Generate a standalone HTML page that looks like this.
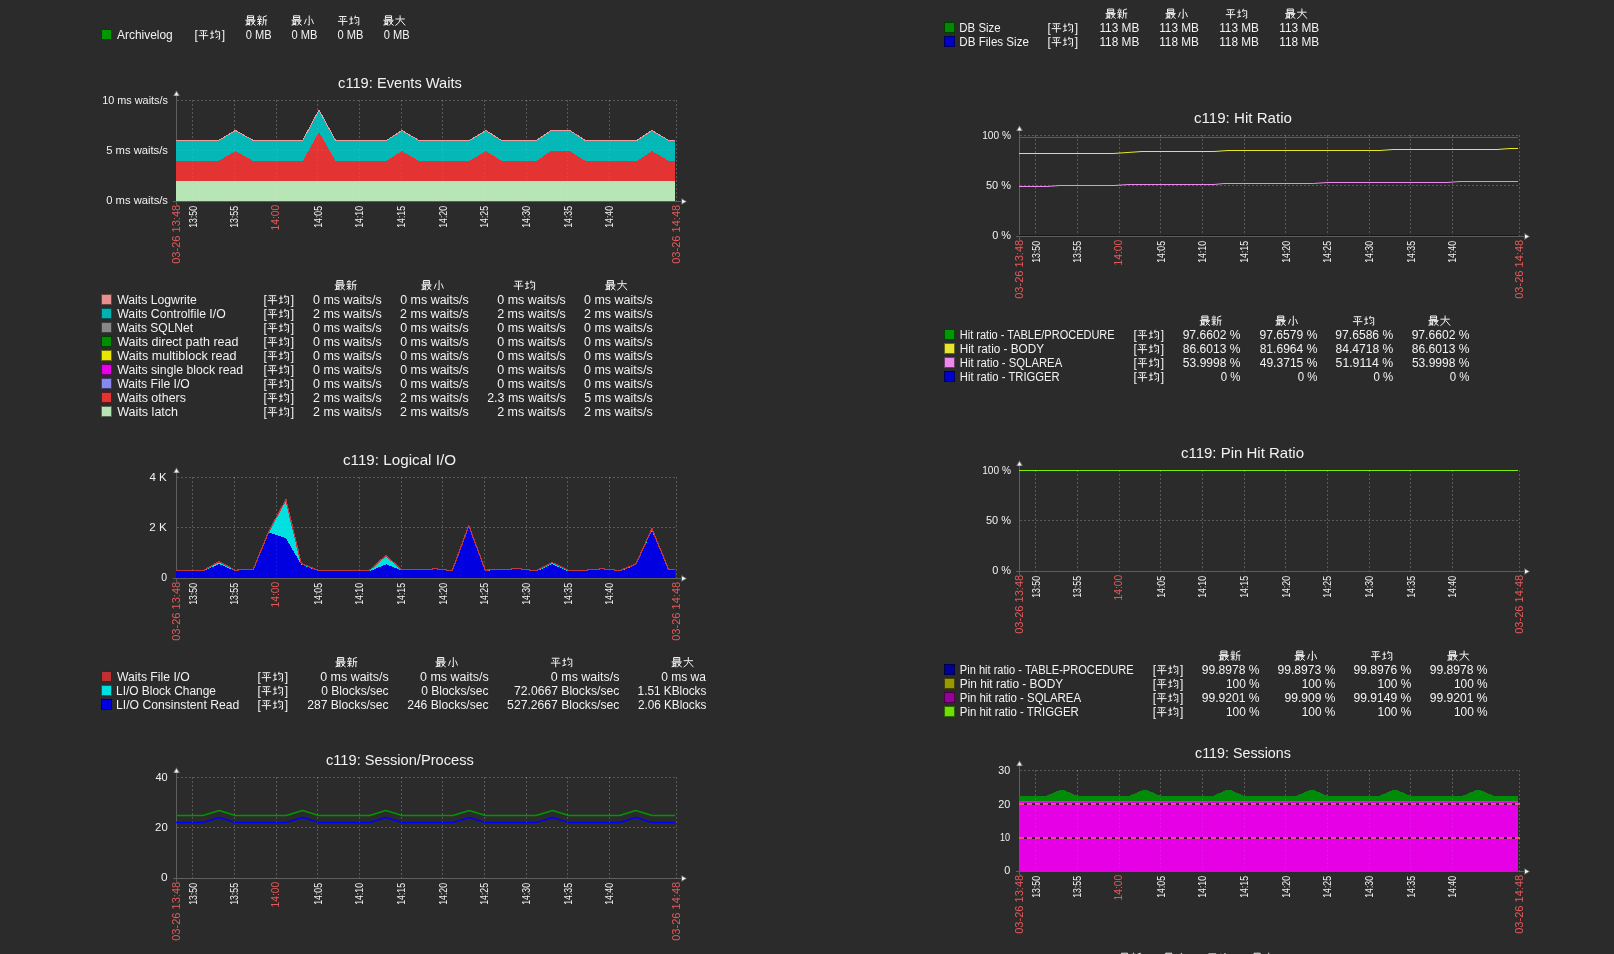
<!DOCTYPE html><html><head><meta charset="utf-8"><title>Zabbix graphs</title><style>html,body{margin:0;padding:0;background:#2b2b2b;width:1614px;height:954px;overflow:hidden}#wrap{position:absolute;left:0;top:0;width:1614px;height:954px;will-change:transform}svg text{font-family:"Liberation Sans",sans-serif}</style></head><body><div id="wrap"><svg width="1614" height="954" viewBox="0 0 1614 954" style="position:absolute;left:0;top:0;font-family:'Liberation Sans',sans-serif">
<rect width="1614" height="954" fill="#2b2b2b"/>
<defs><clipPath id="clipL2"><rect x="600" y="660" width="106.3" height="60"/></clipPath></defs>
<path transform="translate(245.40,15.3) scale(1.020)" d="M2 0.5H8V4H2Z M2 2.2H8 M0 4.8H10 M1.6 4.8V9.4 M4.2 4.8V10 M1.6 6.4H4.2 M1.6 8H4.2 M0 9.6L4.2 8.8 M5.4 5.8H9L5.6 10 M6.2 6.8L10 10" fill="none" stroke="#f2f2f2" stroke-width="0.980"/>
<path transform="translate(257.00,15.3) scale(1.020)" d="M2.5 0V1 M0.5 1.6H4.5 M1.3 2.3L1.8 3.6 M3.7 2.3L3.2 3.6 M0 4.2H5 M0.4 6.2H4.6 M2.5 4.2V10 M2.5 7L0.3 9.4 M2.5 7.2L4.5 8.8 M9.6 0.4L6.2 1.6V7.6L5.2 10 M6.2 4.6H10 M8.6 4.6V10" fill="none" stroke="#f2f2f2" stroke-width="0.980"/>
<path transform="translate(291.50,15.3) scale(1.020)" d="M2 0.5H8V4H2Z M2 2.2H8 M0 4.8H10 M1.6 4.8V9.4 M4.2 4.8V10 M1.6 6.4H4.2 M1.6 8H4.2 M0 9.6L4.2 8.8 M5.4 5.8H9L5.6 10 M6.2 6.8L10 10" fill="none" stroke="#f2f2f2" stroke-width="0.980"/>
<path transform="translate(303.10,15.3) scale(1.020)" d="M6 0.2V9.6L4.6 9.1 M3.2 3.4L1.3 8.6 M8.2 3.4L10.2 8.4" fill="none" stroke="#f2f2f2" stroke-width="0.980"/>
<path transform="translate(337.60,15.3) scale(1.020)" d="M1.2 1.2H8.8 M2.6 2.8L3.4 4.6 M7.4 2.8L6.6 4.6 M0.3 6H9.7 M5 1.2V10" fill="none" stroke="#f2f2f2" stroke-width="0.980"/>
<path transform="translate(349.20,15.3) scale(1.020)" d="M0.2 3.6H3.8 M2 1V8 M0 8.8L4 7.4 M6.2 0.3L5.2 3.2 M5.6 2.2H9.4V9.4L8.2 9.6 M6.4 4.2L7.6 5.2 M5.6 8.2L8.4 6.6" fill="none" stroke="#f2f2f2" stroke-width="0.980"/>
<path transform="translate(383.40,15.3) scale(1.020)" d="M2 0.5H8V4H2Z M2 2.2H8 M0 4.8H10 M1.6 4.8V9.4 M4.2 4.8V10 M1.6 6.4H4.2 M1.6 8H4.2 M0 9.6L4.2 8.8 M5.4 5.8H9L5.6 10 M6.2 6.8L10 10" fill="none" stroke="#f2f2f2" stroke-width="0.980"/>
<path transform="translate(395.00,15.3) scale(1.020)" d="M0.4 3.6H9.6 M5 0V4.2Q4.6 7.6 0.4 10 M5.4 4.6L10 10" fill="none" stroke="#f2f2f2" stroke-width="0.980"/>
<rect x="101" y="29" width="11" height="11" fill="#009900"/>
<rect x="101.5" y="29.5" width="10" height="10" fill="none" stroke="#000" stroke-opacity="0.55"/>
<text x="116.98" y="38.5" font-size="12" fill="#f2f2f2" textLength="55.79" lengthAdjust="spacingAndGlyphs">Archivelog</text>
<text x="194.6" y="38.5" font-size="12" fill="#f2f2f2">[</text>
<path transform="translate(198.40,29.5) scale(1.020)" d="M1.2 1.2H8.8 M2.6 2.8L3.4 4.6 M7.4 2.8L6.6 4.6 M0.3 6H9.7 M5 1.2V10" fill="none" stroke="#f2f2f2" stroke-width="0.980"/>
<path transform="translate(210.00,29.5) scale(1.020)" d="M0.2 3.6H3.8 M2 1V8 M0 8.8L4 7.4 M6.2 0.3L5.2 3.2 M5.6 2.2H9.4V9.4L8.2 9.6 M6.4 4.2L7.6 5.2 M5.6 8.2L8.4 6.6" fill="none" stroke="#f2f2f2" stroke-width="0.980"/>
<text x="221.79999999999998" y="38.5" font-size="12" fill="#f2f2f2">]</text>
<text x="245.71" y="38.5" font-size="12" fill="#f2f2f2" textLength="25.88" lengthAdjust="spacingAndGlyphs">0 MB</text>
<text x="291.51" y="38.5" font-size="12" fill="#f2f2f2" textLength="25.88" lengthAdjust="spacingAndGlyphs">0 MB</text>
<text x="337.41" y="38.5" font-size="12" fill="#f2f2f2" textLength="25.88" lengthAdjust="spacingAndGlyphs">0 MB</text>
<text x="383.71" y="38.5" font-size="12" fill="#f2f2f2" textLength="25.88" lengthAdjust="spacingAndGlyphs">0 MB</text>
<text x="338.09" y="88.3" font-size="14.5" fill="#f2f2f2" textLength="123.84" lengthAdjust="spacingAndGlyphs">c119: Events Waits</text>
<line x1="176.5" y1="95" x2="176.5" y2="205" stroke="#5e5e5e" shape-rendering="crispEdges"/>
<polygon points="176.5,90.2 173,96 180,96" fill="#707070"/>
<polygon points="176.5,91.8 174.4,95.4 178.6,95.4" fill="#f4f4f4"/>
<line x1="173" y1="201.5" x2="681" y2="201.5" stroke="#5e5e5e" shape-rendering="crispEdges"/>
<polygon points="687,201.5 681.3,198 681.3,205" fill="#707070"/>
<polygon points="685.8,201.5 682,199.4 682,203.6" fill="#f4f4f4"/>
<line x1="177" y1="100.5" x2="677" y2="100.5" stroke="#ffffff" stroke-opacity="0.16" stroke-dasharray="2 2" shape-rendering="crispEdges"/>
<line x1="177" y1="150.5" x2="677" y2="150.5" stroke="#ffffff" stroke-opacity="0.16" stroke-dasharray="2 2" shape-rendering="crispEdges"/>
<line x1="192.5" y1="100" x2="192.5" y2="201" stroke="#ffffff" stroke-opacity="0.16" stroke-dasharray="2 2" shape-rendering="crispEdges"/>
<line x1="234.5" y1="100" x2="234.5" y2="201" stroke="#ffffff" stroke-opacity="0.16" stroke-dasharray="2 2" shape-rendering="crispEdges"/>
<line x1="276.5" y1="100" x2="276.5" y2="201" stroke="#ffffff" stroke-opacity="0.16" stroke-dasharray="2 2" shape-rendering="crispEdges"/>
<line x1="317.5" y1="100" x2="317.5" y2="201" stroke="#ffffff" stroke-opacity="0.16" stroke-dasharray="2 2" shape-rendering="crispEdges"/>
<line x1="359.5" y1="100" x2="359.5" y2="201" stroke="#ffffff" stroke-opacity="0.16" stroke-dasharray="2 2" shape-rendering="crispEdges"/>
<line x1="401.5" y1="100" x2="401.5" y2="201" stroke="#ffffff" stroke-opacity="0.16" stroke-dasharray="2 2" shape-rendering="crispEdges"/>
<line x1="442.5" y1="100" x2="442.5" y2="201" stroke="#ffffff" stroke-opacity="0.16" stroke-dasharray="2 2" shape-rendering="crispEdges"/>
<line x1="484.5" y1="100" x2="484.5" y2="201" stroke="#ffffff" stroke-opacity="0.16" stroke-dasharray="2 2" shape-rendering="crispEdges"/>
<line x1="526.5" y1="100" x2="526.5" y2="201" stroke="#ffffff" stroke-opacity="0.16" stroke-dasharray="2 2" shape-rendering="crispEdges"/>
<line x1="567.5" y1="100" x2="567.5" y2="201" stroke="#ffffff" stroke-opacity="0.16" stroke-dasharray="2 2" shape-rendering="crispEdges"/>
<line x1="609.5" y1="100" x2="609.5" y2="201" stroke="#ffffff" stroke-opacity="0.16" stroke-dasharray="2 2" shape-rendering="crispEdges"/>
<line x1="676.5" y1="100" x2="676.5" y2="201" stroke="#ffffff" stroke-opacity="0.16" stroke-dasharray="2 2" shape-rendering="crispEdges"/>
<polygon points="176.0,181.0 675.0,181.0 675.0,201.0 176.0,201.0" fill="#b8e5b5" shape-rendering="crispEdges"/>
<polygon points="176.0,161.0 218.5,161.0 235.5,151.0 235.5,151.0 253.3,161.0 302.7,161.0 319.0,132.0 319.0,132.0 335.5,161.0 386.5,161.0 401.8,151.0 401.8,151.0 419.0,161.0 469.3,161.0 486.0,151.0 486.0,151.0 501.7,161.0 536.5,161.0 551.0,151.0 570.0,151.0 585.3,161.0 636.9,161.0 651.9,151.0 651.9,151.0 668.9,161.0 675.0,161.0 675.0,181.0 176.0,181.0" fill="#e33333" shape-rendering="crispEdges"/>
<polygon points="176.0,141.0 218.5,141.0 235.5,131.0 235.5,131.0 253.3,141.0 302.7,141.0 319.0,110.5 319.0,110.5 335.5,141.0 386.5,141.0 401.8,131.0 401.8,131.0 419.0,141.0 469.3,141.0 486.0,131.0 486.0,131.0 501.7,141.0 536.5,141.0 551.0,131.0 570.0,131.0 585.3,141.0 636.9,141.0 651.9,131.0 651.9,131.0 668.9,141.0 675.0,141.0 675.0,161.0 675.0,161.0 668.9,161.0 651.9,151.0 651.9,151.0 636.9,161.0 585.3,161.0 570.0,151.0 551.0,151.0 536.5,161.0 501.7,161.0 486.0,151.0 486.0,151.0 469.3,161.0 419.0,161.0 401.8,151.0 401.8,151.0 386.5,161.0 335.5,161.0 319.0,132.0 319.0,132.0 302.7,161.0 253.3,161.0 235.5,151.0 235.5,151.0 218.5,161.0 176.0,161.0" fill="#05b8b8" shape-rendering="crispEdges"/>
<polyline points="176.0,140.5 218.5,140.5 235.5,130.5 235.5,130.5 253.3,140.5 302.7,140.5 319.0,110.0 319.0,110.0 335.5,140.5 386.5,140.5 401.8,130.5 401.8,130.5 419.0,140.5 469.3,140.5 486.0,130.5 486.0,130.5 501.7,140.5 536.5,140.5 551.0,130.5 570.0,130.5 585.3,140.5 636.9,140.5 651.9,130.5 651.9,130.5 668.9,140.5 675.0,140.5" fill="none" stroke="#f29a9a" stroke-width="1" stroke-linejoin="round" shape-rendering="crispEdges"/>
<text x="102.17" y="104.3" font-size="10.9" fill="#f2f2f2" textLength="65.82" lengthAdjust="spacingAndGlyphs">10 ms waits/s</text>
<text x="106.15" y="154.3" font-size="10.9" fill="#f2f2f2" textLength="61.86" lengthAdjust="spacingAndGlyphs">5 ms waits/s</text>
<text x="106.16" y="204.3" font-size="10.9" fill="#f2f2f2" textLength="61.85" lengthAdjust="spacingAndGlyphs">0 ms waits/s</text>
<line x1="177" y1="100.5" x2="677" y2="100.5" stroke="#ffffff" stroke-opacity="0.07" stroke-dasharray="2 2" shape-rendering="crispEdges"/>
<line x1="177" y1="150.5" x2="677" y2="150.5" stroke="#ffffff" stroke-opacity="0.07" stroke-dasharray="2 2" shape-rendering="crispEdges"/>
<line x1="192.5" y1="100" x2="192.5" y2="201" stroke="#ffffff" stroke-opacity="0.07" stroke-dasharray="2 2" shape-rendering="crispEdges"/>
<line x1="234.5" y1="100" x2="234.5" y2="201" stroke="#ffffff" stroke-opacity="0.07" stroke-dasharray="2 2" shape-rendering="crispEdges"/>
<line x1="276.5" y1="100" x2="276.5" y2="201" stroke="#ffffff" stroke-opacity="0.07" stroke-dasharray="2 2" shape-rendering="crispEdges"/>
<line x1="317.5" y1="100" x2="317.5" y2="201" stroke="#ffffff" stroke-opacity="0.07" stroke-dasharray="2 2" shape-rendering="crispEdges"/>
<line x1="359.5" y1="100" x2="359.5" y2="201" stroke="#ffffff" stroke-opacity="0.07" stroke-dasharray="2 2" shape-rendering="crispEdges"/>
<line x1="401.5" y1="100" x2="401.5" y2="201" stroke="#ffffff" stroke-opacity="0.07" stroke-dasharray="2 2" shape-rendering="crispEdges"/>
<line x1="442.5" y1="100" x2="442.5" y2="201" stroke="#ffffff" stroke-opacity="0.07" stroke-dasharray="2 2" shape-rendering="crispEdges"/>
<line x1="484.5" y1="100" x2="484.5" y2="201" stroke="#ffffff" stroke-opacity="0.07" stroke-dasharray="2 2" shape-rendering="crispEdges"/>
<line x1="526.5" y1="100" x2="526.5" y2="201" stroke="#ffffff" stroke-opacity="0.07" stroke-dasharray="2 2" shape-rendering="crispEdges"/>
<line x1="567.5" y1="100" x2="567.5" y2="201" stroke="#ffffff" stroke-opacity="0.07" stroke-dasharray="2 2" shape-rendering="crispEdges"/>
<line x1="609.5" y1="100" x2="609.5" y2="201" stroke="#ffffff" stroke-opacity="0.07" stroke-dasharray="2 2" shape-rendering="crispEdges"/>
<line x1="676.5" y1="100" x2="676.5" y2="201" stroke="#ffffff" stroke-opacity="0.07" stroke-dasharray="2 2" shape-rendering="crispEdges"/>
<text transform="translate(196.66666666666666,227.8) rotate(-90)" font-size="10.5" fill="#f2f2f2" textLength="21.8" lengthAdjust="spacingAndGlyphs">13:50</text>
<text transform="translate(238.33333333333334,227.8) rotate(-90)" font-size="10.5" fill="#f2f2f2" textLength="21.8" lengthAdjust="spacingAndGlyphs">13:55</text>
<text transform="translate(279.4,230.5) rotate(-90)" font-size="10.6" fill="#e45959" textLength="25.6" lengthAdjust="spacingAndGlyphs">14:00</text>
<text transform="translate(321.66666666666663,227.8) rotate(-90)" font-size="10.5" fill="#f2f2f2" textLength="21.8" lengthAdjust="spacingAndGlyphs">14:05</text>
<text transform="translate(363.33333333333337,227.8) rotate(-90)" font-size="10.5" fill="#f2f2f2" textLength="21.8" lengthAdjust="spacingAndGlyphs">14:10</text>
<text transform="translate(405.0,227.8) rotate(-90)" font-size="10.5" fill="#f2f2f2" textLength="21.8" lengthAdjust="spacingAndGlyphs">14:15</text>
<text transform="translate(446.6666666666667,227.8) rotate(-90)" font-size="10.5" fill="#f2f2f2" textLength="21.8" lengthAdjust="spacingAndGlyphs">14:20</text>
<text transform="translate(488.3333333333333,227.8) rotate(-90)" font-size="10.5" fill="#f2f2f2" textLength="21.8" lengthAdjust="spacingAndGlyphs">14:25</text>
<text transform="translate(530.0,227.8) rotate(-90)" font-size="10.5" fill="#f2f2f2" textLength="21.8" lengthAdjust="spacingAndGlyphs">14:30</text>
<text transform="translate(571.6666666666667,227.8) rotate(-90)" font-size="10.5" fill="#f2f2f2" textLength="21.8" lengthAdjust="spacingAndGlyphs">14:35</text>
<text transform="translate(613.3333333333333,227.8) rotate(-90)" font-size="10.5" fill="#f2f2f2" textLength="21.8" lengthAdjust="spacingAndGlyphs">14:40</text>
<text transform="translate(179.7,263.8) rotate(-90)" font-size="10.6" fill="#e45959" textLength="59" lengthAdjust="spacingAndGlyphs">03-26 13:48</text>
<text transform="translate(679.7,263.8) rotate(-90)" font-size="10.6" fill="#e45959" textLength="59" lengthAdjust="spacingAndGlyphs">03-26 14:48</text>
<path transform="translate(334.80,280) scale(1.020)" d="M2 0.5H8V4H2Z M2 2.2H8 M0 4.8H10 M1.6 4.8V9.4 M4.2 4.8V10 M1.6 6.4H4.2 M1.6 8H4.2 M0 9.6L4.2 8.8 M5.4 5.8H9L5.6 10 M6.2 6.8L10 10" fill="none" stroke="#f2f2f2" stroke-width="0.980"/>
<path transform="translate(346.40,280) scale(1.020)" d="M2.5 0V1 M0.5 1.6H4.5 M1.3 2.3L1.8 3.6 M3.7 2.3L3.2 3.6 M0 4.2H5 M0.4 6.2H4.6 M2.5 4.2V10 M2.5 7L0.3 9.4 M2.5 7.2L4.5 8.8 M9.6 0.4L6.2 1.6V7.6L5.2 10 M6.2 4.6H10 M8.6 4.6V10" fill="none" stroke="#f2f2f2" stroke-width="0.980"/>
<path transform="translate(421.40,280) scale(1.020)" d="M2 0.5H8V4H2Z M2 2.2H8 M0 4.8H10 M1.6 4.8V9.4 M4.2 4.8V10 M1.6 6.4H4.2 M1.6 8H4.2 M0 9.6L4.2 8.8 M5.4 5.8H9L5.6 10 M6.2 6.8L10 10" fill="none" stroke="#f2f2f2" stroke-width="0.980"/>
<path transform="translate(433.00,280) scale(1.020)" d="M6 0.2V9.6L4.6 9.1 M3.2 3.4L1.3 8.6 M8.2 3.4L10.2 8.4" fill="none" stroke="#f2f2f2" stroke-width="0.980"/>
<path transform="translate(513.40,280) scale(1.020)" d="M1.2 1.2H8.8 M2.6 2.8L3.4 4.6 M7.4 2.8L6.6 4.6 M0.3 6H9.7 M5 1.2V10" fill="none" stroke="#f2f2f2" stroke-width="0.980"/>
<path transform="translate(525.00,280) scale(1.020)" d="M0.2 3.6H3.8 M2 1V8 M0 8.8L4 7.4 M6.2 0.3L5.2 3.2 M5.6 2.2H9.4V9.4L8.2 9.6 M6.4 4.2L7.6 5.2 M5.6 8.2L8.4 6.6" fill="none" stroke="#f2f2f2" stroke-width="0.980"/>
<path transform="translate(605.30,280) scale(1.020)" d="M2 0.5H8V4H2Z M2 2.2H8 M0 4.8H10 M1.6 4.8V9.4 M4.2 4.8V10 M1.6 6.4H4.2 M1.6 8H4.2 M0 9.6L4.2 8.8 M5.4 5.8H9L5.6 10 M6.2 6.8L10 10" fill="none" stroke="#f2f2f2" stroke-width="0.980"/>
<path transform="translate(616.90,280) scale(1.020)" d="M0.4 3.6H9.6 M5 0V4.2Q4.6 7.6 0.4 10 M5.4 4.6L10 10" fill="none" stroke="#f2f2f2" stroke-width="0.980"/>
<rect x="101" y="294.0" width="11" height="11" fill="#e88e8e"/>
<rect x="101.5" y="294.5" width="10" height="10" fill="none" stroke="#000" stroke-opacity="0.55"/>
<text x="117.25" y="303.5" font-size="12" fill="#f2f2f2" textLength="79.59" lengthAdjust="spacingAndGlyphs">Waits Logwrite</text>
<text x="263.5" y="303.5" font-size="12" fill="#f2f2f2">[</text>
<path transform="translate(267.30,294.5) scale(1.020)" d="M1.2 1.2H8.8 M2.6 2.8L3.4 4.6 M7.4 2.8L6.6 4.6 M0.3 6H9.7 M5 1.2V10" fill="none" stroke="#f2f2f2" stroke-width="0.980"/>
<path transform="translate(278.90,294.5) scale(1.020)" d="M0.2 3.6H3.8 M2 1V8 M0 8.8L4 7.4 M6.2 0.3L5.2 3.2 M5.6 2.2H9.4V9.4L8.2 9.6 M6.4 4.2L7.6 5.2 M5.6 8.2L8.4 6.6" fill="none" stroke="#f2f2f2" stroke-width="0.980"/>
<text x="290.7" y="303.5" font-size="12" fill="#f2f2f2">]</text>
<text x="313.08" y="303.5" font-size="12" fill="#f2f2f2" textLength="68.57" lengthAdjust="spacingAndGlyphs">0 ms waits/s</text>
<text x="400.18" y="303.5" font-size="12" fill="#f2f2f2" textLength="68.57" lengthAdjust="spacingAndGlyphs">0 ms waits/s</text>
<text x="497.28" y="303.5" font-size="12" fill="#f2f2f2" textLength="68.57" lengthAdjust="spacingAndGlyphs">0 ms waits/s</text>
<text x="584.08" y="303.5" font-size="12" fill="#f2f2f2" textLength="68.57" lengthAdjust="spacingAndGlyphs">0 ms waits/s</text>
<rect x="101" y="308.0" width="11" height="11" fill="#00b3b3"/>
<rect x="101.5" y="308.5" width="10" height="10" fill="none" stroke="#000" stroke-opacity="0.55"/>
<text x="117.25" y="317.5" font-size="12" fill="#f2f2f2" textLength="108.44" lengthAdjust="spacingAndGlyphs">Waits Controlfile I/O</text>
<text x="263.5" y="317.5" font-size="12" fill="#f2f2f2">[</text>
<path transform="translate(267.30,308.5) scale(1.020)" d="M1.2 1.2H8.8 M2.6 2.8L3.4 4.6 M7.4 2.8L6.6 4.6 M0.3 6H9.7 M5 1.2V10" fill="none" stroke="#f2f2f2" stroke-width="0.980"/>
<path transform="translate(278.90,308.5) scale(1.020)" d="M0.2 3.6H3.8 M2 1V8 M0 8.8L4 7.4 M6.2 0.3L5.2 3.2 M5.6 2.2H9.4V9.4L8.2 9.6 M6.4 4.2L7.6 5.2 M5.6 8.2L8.4 6.6" fill="none" stroke="#f2f2f2" stroke-width="0.980"/>
<text x="290.7" y="317.5" font-size="12" fill="#f2f2f2">]</text>
<text x="313.02" y="317.5" font-size="12" fill="#f2f2f2" textLength="68.63" lengthAdjust="spacingAndGlyphs">2 ms waits/s</text>
<text x="400.12" y="317.5" font-size="12" fill="#f2f2f2" textLength="68.63" lengthAdjust="spacingAndGlyphs">2 ms waits/s</text>
<text x="497.22" y="317.5" font-size="12" fill="#f2f2f2" textLength="68.63" lengthAdjust="spacingAndGlyphs">2 ms waits/s</text>
<text x="584.02" y="317.5" font-size="12" fill="#f2f2f2" textLength="68.63" lengthAdjust="spacingAndGlyphs">2 ms waits/s</text>
<rect x="101" y="322.0" width="11" height="11" fill="#888888"/>
<rect x="101.5" y="322.5" width="10" height="10" fill="none" stroke="#000" stroke-opacity="0.55"/>
<text x="117.25" y="331.5" font-size="12" fill="#f2f2f2" textLength="75.84" lengthAdjust="spacingAndGlyphs">Waits SQLNet</text>
<text x="263.5" y="331.5" font-size="12" fill="#f2f2f2">[</text>
<path transform="translate(267.30,322.5) scale(1.020)" d="M1.2 1.2H8.8 M2.6 2.8L3.4 4.6 M7.4 2.8L6.6 4.6 M0.3 6H9.7 M5 1.2V10" fill="none" stroke="#f2f2f2" stroke-width="0.980"/>
<path transform="translate(278.90,322.5) scale(1.020)" d="M0.2 3.6H3.8 M2 1V8 M0 8.8L4 7.4 M6.2 0.3L5.2 3.2 M5.6 2.2H9.4V9.4L8.2 9.6 M6.4 4.2L7.6 5.2 M5.6 8.2L8.4 6.6" fill="none" stroke="#f2f2f2" stroke-width="0.980"/>
<text x="290.7" y="331.5" font-size="12" fill="#f2f2f2">]</text>
<text x="313.08" y="331.5" font-size="12" fill="#f2f2f2" textLength="68.57" lengthAdjust="spacingAndGlyphs">0 ms waits/s</text>
<text x="400.18" y="331.5" font-size="12" fill="#f2f2f2" textLength="68.57" lengthAdjust="spacingAndGlyphs">0 ms waits/s</text>
<text x="497.28" y="331.5" font-size="12" fill="#f2f2f2" textLength="68.57" lengthAdjust="spacingAndGlyphs">0 ms waits/s</text>
<text x="584.08" y="331.5" font-size="12" fill="#f2f2f2" textLength="68.57" lengthAdjust="spacingAndGlyphs">0 ms waits/s</text>
<rect x="101" y="336.0" width="11" height="11" fill="#008f00"/>
<rect x="101.5" y="336.5" width="10" height="10" fill="none" stroke="#000" stroke-opacity="0.55"/>
<text x="117.25" y="345.5" font-size="12" fill="#f2f2f2" textLength="121.16" lengthAdjust="spacingAndGlyphs">Waits direct path read</text>
<text x="263.5" y="345.5" font-size="12" fill="#f2f2f2">[</text>
<path transform="translate(267.30,336.5) scale(1.020)" d="M1.2 1.2H8.8 M2.6 2.8L3.4 4.6 M7.4 2.8L6.6 4.6 M0.3 6H9.7 M5 1.2V10" fill="none" stroke="#f2f2f2" stroke-width="0.980"/>
<path transform="translate(278.90,336.5) scale(1.020)" d="M0.2 3.6H3.8 M2 1V8 M0 8.8L4 7.4 M6.2 0.3L5.2 3.2 M5.6 2.2H9.4V9.4L8.2 9.6 M6.4 4.2L7.6 5.2 M5.6 8.2L8.4 6.6" fill="none" stroke="#f2f2f2" stroke-width="0.980"/>
<text x="290.7" y="345.5" font-size="12" fill="#f2f2f2">]</text>
<text x="313.08" y="345.5" font-size="12" fill="#f2f2f2" textLength="68.57" lengthAdjust="spacingAndGlyphs">0 ms waits/s</text>
<text x="400.18" y="345.5" font-size="12" fill="#f2f2f2" textLength="68.57" lengthAdjust="spacingAndGlyphs">0 ms waits/s</text>
<text x="497.28" y="345.5" font-size="12" fill="#f2f2f2" textLength="68.57" lengthAdjust="spacingAndGlyphs">0 ms waits/s</text>
<text x="584.08" y="345.5" font-size="12" fill="#f2f2f2" textLength="68.57" lengthAdjust="spacingAndGlyphs">0 ms waits/s</text>
<rect x="101" y="350.0" width="11" height="11" fill="#e6e600"/>
<rect x="101.5" y="350.5" width="10" height="10" fill="none" stroke="#000" stroke-opacity="0.55"/>
<text x="117.24" y="359.5" font-size="12" fill="#f2f2f2" textLength="119.26" lengthAdjust="spacingAndGlyphs">Waits multiblock read</text>
<text x="263.5" y="359.5" font-size="12" fill="#f2f2f2">[</text>
<path transform="translate(267.30,350.5) scale(1.020)" d="M1.2 1.2H8.8 M2.6 2.8L3.4 4.6 M7.4 2.8L6.6 4.6 M0.3 6H9.7 M5 1.2V10" fill="none" stroke="#f2f2f2" stroke-width="0.980"/>
<path transform="translate(278.90,350.5) scale(1.020)" d="M0.2 3.6H3.8 M2 1V8 M0 8.8L4 7.4 M6.2 0.3L5.2 3.2 M5.6 2.2H9.4V9.4L8.2 9.6 M6.4 4.2L7.6 5.2 M5.6 8.2L8.4 6.6" fill="none" stroke="#f2f2f2" stroke-width="0.980"/>
<text x="290.7" y="359.5" font-size="12" fill="#f2f2f2">]</text>
<text x="313.08" y="359.5" font-size="12" fill="#f2f2f2" textLength="68.57" lengthAdjust="spacingAndGlyphs">0 ms waits/s</text>
<text x="400.18" y="359.5" font-size="12" fill="#f2f2f2" textLength="68.57" lengthAdjust="spacingAndGlyphs">0 ms waits/s</text>
<text x="497.28" y="359.5" font-size="12" fill="#f2f2f2" textLength="68.57" lengthAdjust="spacingAndGlyphs">0 ms waits/s</text>
<text x="584.08" y="359.5" font-size="12" fill="#f2f2f2" textLength="68.57" lengthAdjust="spacingAndGlyphs">0 ms waits/s</text>
<rect x="101" y="364.0" width="11" height="11" fill="#e600e6"/>
<rect x="101.5" y="364.5" width="10" height="10" fill="none" stroke="#000" stroke-opacity="0.55"/>
<text x="117.25" y="373.5" font-size="12" fill="#f2f2f2" textLength="125.94" lengthAdjust="spacingAndGlyphs">Waits single block read</text>
<text x="263.5" y="373.5" font-size="12" fill="#f2f2f2">[</text>
<path transform="translate(267.30,364.5) scale(1.020)" d="M1.2 1.2H8.8 M2.6 2.8L3.4 4.6 M7.4 2.8L6.6 4.6 M0.3 6H9.7 M5 1.2V10" fill="none" stroke="#f2f2f2" stroke-width="0.980"/>
<path transform="translate(278.90,364.5) scale(1.020)" d="M0.2 3.6H3.8 M2 1V8 M0 8.8L4 7.4 M6.2 0.3L5.2 3.2 M5.6 2.2H9.4V9.4L8.2 9.6 M6.4 4.2L7.6 5.2 M5.6 8.2L8.4 6.6" fill="none" stroke="#f2f2f2" stroke-width="0.980"/>
<text x="290.7" y="373.5" font-size="12" fill="#f2f2f2">]</text>
<text x="313.08" y="373.5" font-size="12" fill="#f2f2f2" textLength="68.57" lengthAdjust="spacingAndGlyphs">0 ms waits/s</text>
<text x="400.18" y="373.5" font-size="12" fill="#f2f2f2" textLength="68.57" lengthAdjust="spacingAndGlyphs">0 ms waits/s</text>
<text x="497.28" y="373.5" font-size="12" fill="#f2f2f2" textLength="68.57" lengthAdjust="spacingAndGlyphs">0 ms waits/s</text>
<text x="584.08" y="373.5" font-size="12" fill="#f2f2f2" textLength="68.57" lengthAdjust="spacingAndGlyphs">0 ms waits/s</text>
<rect x="101" y="378.0" width="11" height="11" fill="#8888ee"/>
<rect x="101.5" y="378.5" width="10" height="10" fill="none" stroke="#000" stroke-opacity="0.55"/>
<text x="117.25" y="387.5" font-size="12" fill="#f2f2f2" textLength="72.53" lengthAdjust="spacingAndGlyphs">Waits File I/O</text>
<text x="263.5" y="387.5" font-size="12" fill="#f2f2f2">[</text>
<path transform="translate(267.30,378.5) scale(1.020)" d="M1.2 1.2H8.8 M2.6 2.8L3.4 4.6 M7.4 2.8L6.6 4.6 M0.3 6H9.7 M5 1.2V10" fill="none" stroke="#f2f2f2" stroke-width="0.980"/>
<path transform="translate(278.90,378.5) scale(1.020)" d="M0.2 3.6H3.8 M2 1V8 M0 8.8L4 7.4 M6.2 0.3L5.2 3.2 M5.6 2.2H9.4V9.4L8.2 9.6 M6.4 4.2L7.6 5.2 M5.6 8.2L8.4 6.6" fill="none" stroke="#f2f2f2" stroke-width="0.980"/>
<text x="290.7" y="387.5" font-size="12" fill="#f2f2f2">]</text>
<text x="313.08" y="387.5" font-size="12" fill="#f2f2f2" textLength="68.57" lengthAdjust="spacingAndGlyphs">0 ms waits/s</text>
<text x="400.18" y="387.5" font-size="12" fill="#f2f2f2" textLength="68.57" lengthAdjust="spacingAndGlyphs">0 ms waits/s</text>
<text x="497.28" y="387.5" font-size="12" fill="#f2f2f2" textLength="68.57" lengthAdjust="spacingAndGlyphs">0 ms waits/s</text>
<text x="584.08" y="387.5" font-size="12" fill="#f2f2f2" textLength="68.57" lengthAdjust="spacingAndGlyphs">0 ms waits/s</text>
<rect x="101" y="392.0" width="11" height="11" fill="#e33333"/>
<rect x="101.5" y="392.5" width="10" height="10" fill="none" stroke="#000" stroke-opacity="0.55"/>
<text x="117.25" y="401.5" font-size="12" fill="#f2f2f2" textLength="68.70" lengthAdjust="spacingAndGlyphs">Waits others</text>
<text x="263.5" y="401.5" font-size="12" fill="#f2f2f2">[</text>
<path transform="translate(267.30,392.5) scale(1.020)" d="M1.2 1.2H8.8 M2.6 2.8L3.4 4.6 M7.4 2.8L6.6 4.6 M0.3 6H9.7 M5 1.2V10" fill="none" stroke="#f2f2f2" stroke-width="0.980"/>
<path transform="translate(278.90,392.5) scale(1.020)" d="M0.2 3.6H3.8 M2 1V8 M0 8.8L4 7.4 M6.2 0.3L5.2 3.2 M5.6 2.2H9.4V9.4L8.2 9.6 M6.4 4.2L7.6 5.2 M5.6 8.2L8.4 6.6" fill="none" stroke="#f2f2f2" stroke-width="0.980"/>
<text x="290.7" y="401.5" font-size="12" fill="#f2f2f2">]</text>
<text x="313.02" y="401.5" font-size="12" fill="#f2f2f2" textLength="68.63" lengthAdjust="spacingAndGlyphs">2 ms waits/s</text>
<text x="400.12" y="401.5" font-size="12" fill="#f2f2f2" textLength="68.63" lengthAdjust="spacingAndGlyphs">2 ms waits/s</text>
<text x="487.22" y="401.5" font-size="12" fill="#f2f2f2" textLength="78.63" lengthAdjust="spacingAndGlyphs">2.3 ms waits/s</text>
<text x="584.19" y="401.5" font-size="12" fill="#f2f2f2" textLength="68.46" lengthAdjust="spacingAndGlyphs">5 ms waits/s</text>
<rect x="101" y="406.0" width="11" height="11" fill="#b8e5b5"/>
<rect x="101.5" y="406.5" width="10" height="10" fill="none" stroke="#000" stroke-opacity="0.55"/>
<text x="117.25" y="415.5" font-size="12" fill="#f2f2f2" textLength="60.86" lengthAdjust="spacingAndGlyphs">Waits latch</text>
<text x="263.5" y="415.5" font-size="12" fill="#f2f2f2">[</text>
<path transform="translate(267.30,406.5) scale(1.020)" d="M1.2 1.2H8.8 M2.6 2.8L3.4 4.6 M7.4 2.8L6.6 4.6 M0.3 6H9.7 M5 1.2V10" fill="none" stroke="#f2f2f2" stroke-width="0.980"/>
<path transform="translate(278.90,406.5) scale(1.020)" d="M0.2 3.6H3.8 M2 1V8 M0 8.8L4 7.4 M6.2 0.3L5.2 3.2 M5.6 2.2H9.4V9.4L8.2 9.6 M6.4 4.2L7.6 5.2 M5.6 8.2L8.4 6.6" fill="none" stroke="#f2f2f2" stroke-width="0.980"/>
<text x="290.7" y="415.5" font-size="12" fill="#f2f2f2">]</text>
<text x="313.02" y="415.5" font-size="12" fill="#f2f2f2" textLength="68.63" lengthAdjust="spacingAndGlyphs">2 ms waits/s</text>
<text x="400.12" y="415.5" font-size="12" fill="#f2f2f2" textLength="68.63" lengthAdjust="spacingAndGlyphs">2 ms waits/s</text>
<text x="497.22" y="415.5" font-size="12" fill="#f2f2f2" textLength="68.63" lengthAdjust="spacingAndGlyphs">2 ms waits/s</text>
<text x="584.02" y="415.5" font-size="12" fill="#f2f2f2" textLength="68.63" lengthAdjust="spacingAndGlyphs">2 ms waits/s</text>
<text x="342.96" y="465" font-size="14.5" fill="#f2f2f2" textLength="113.06" lengthAdjust="spacingAndGlyphs">c119: Logical I/O</text>
<line x1="176.5" y1="472" x2="176.5" y2="582" stroke="#5e5e5e" shape-rendering="crispEdges"/>
<polygon points="176.5,467.2 173,473 180,473" fill="#707070"/>
<polygon points="176.5,468.8 174.4,472.4 178.6,472.4" fill="#f4f4f4"/>
<line x1="173" y1="578.5" x2="681" y2="578.5" stroke="#5e5e5e" shape-rendering="crispEdges"/>
<polygon points="687,578.5 681.3,575 681.3,582" fill="#707070"/>
<polygon points="685.8,578.5 682,576.4 682,580.6" fill="#f4f4f4"/>
<line x1="177" y1="477.5" x2="677" y2="477.5" stroke="#ffffff" stroke-opacity="0.16" stroke-dasharray="2 2" shape-rendering="crispEdges"/>
<line x1="177" y1="527.5" x2="677" y2="527.5" stroke="#ffffff" stroke-opacity="0.16" stroke-dasharray="2 2" shape-rendering="crispEdges"/>
<line x1="192.5" y1="477" x2="192.5" y2="578" stroke="#ffffff" stroke-opacity="0.16" stroke-dasharray="2 2" shape-rendering="crispEdges"/>
<line x1="234.5" y1="477" x2="234.5" y2="578" stroke="#ffffff" stroke-opacity="0.16" stroke-dasharray="2 2" shape-rendering="crispEdges"/>
<line x1="276.5" y1="477" x2="276.5" y2="578" stroke="#ffffff" stroke-opacity="0.16" stroke-dasharray="2 2" shape-rendering="crispEdges"/>
<line x1="317.5" y1="477" x2="317.5" y2="578" stroke="#ffffff" stroke-opacity="0.16" stroke-dasharray="2 2" shape-rendering="crispEdges"/>
<line x1="359.5" y1="477" x2="359.5" y2="578" stroke="#ffffff" stroke-opacity="0.16" stroke-dasharray="2 2" shape-rendering="crispEdges"/>
<line x1="401.5" y1="477" x2="401.5" y2="578" stroke="#ffffff" stroke-opacity="0.16" stroke-dasharray="2 2" shape-rendering="crispEdges"/>
<line x1="442.5" y1="477" x2="442.5" y2="578" stroke="#ffffff" stroke-opacity="0.16" stroke-dasharray="2 2" shape-rendering="crispEdges"/>
<line x1="484.5" y1="477" x2="484.5" y2="578" stroke="#ffffff" stroke-opacity="0.16" stroke-dasharray="2 2" shape-rendering="crispEdges"/>
<line x1="526.5" y1="477" x2="526.5" y2="578" stroke="#ffffff" stroke-opacity="0.16" stroke-dasharray="2 2" shape-rendering="crispEdges"/>
<line x1="567.5" y1="477" x2="567.5" y2="578" stroke="#ffffff" stroke-opacity="0.16" stroke-dasharray="2 2" shape-rendering="crispEdges"/>
<line x1="609.5" y1="477" x2="609.5" y2="578" stroke="#ffffff" stroke-opacity="0.16" stroke-dasharray="2 2" shape-rendering="crispEdges"/>
<line x1="676.5" y1="477" x2="676.5" y2="578" stroke="#ffffff" stroke-opacity="0.16" stroke-dasharray="2 2" shape-rendering="crispEdges"/>
<polygon points="176.0,570.5 203.5,570.5 219.0,561.5 235.7,570.5 241.0,569.3 253.3,569.3 269.1,530.9 285.9,499.7 301.3,563.7 318.7,570.5 369.3,570.5 386.0,555.4 400.9,569.3 432.5,569.3 433.0,568.4 437.4,568.4 438.0,569.3 446.7,569.3 447.0,570.5 452.3,570.5 468.8,525.7 485.4,570.5 492.6,569.3 511.8,569.3 512.0,568.4 521.0,568.4 521.5,569.3 529.3,569.3 529.5,570.5 536.7,570.5 552.0,562.5 568.3,570.5 587.5,570.5 588.0,569.3 599.3,569.3 599.5,568.4 604.3,568.4 604.5,569.3 614.2,569.3 614.5,570.5 620.4,570.5 635.9,564.1 652.0,528.7 668.4,569.3 675.0,569.3 675.0,578.0 176.0,578.0" fill="#00e0e0" shape-rendering="crispEdges"/>
<polygon points="176.0,571.3 203.5,571.3 219.0,563.9 235.7,571.3 241.0,570.1 253.3,570.1 269.1,532.5 285.9,538.3 301.3,564.6 318.7,571.3 369.3,571.3 386.0,564.3 400.9,570.1 432.5,570.1 433.0,569.2 437.4,569.2 438.0,570.1 446.7,570.1 447.0,571.3 452.3,571.3 468.8,526.5 485.4,571.3 492.6,570.1 511.8,570.1 512.0,569.2 521.0,569.2 521.5,570.1 529.3,570.1 529.5,571.3 536.7,571.3 552.0,564.2 568.3,571.3 587.5,571.3 588.0,570.1 599.3,570.1 599.5,569.2 604.3,569.2 604.5,570.1 614.2,570.1 614.5,571.3 620.4,571.3 635.9,564.9 652.0,531.0 668.4,570.1 675.0,570.1 675.0,578.0 176.0,578.0" fill="#0000e0" shape-rendering="crispEdges"/>
<polyline points="176.0,570.5 203.5,570.5 219.0,561.5 235.7,570.5 241.0,569.3 253.3,569.3 269.1,530.9 285.9,499.7 301.3,563.7 318.7,570.5 369.3,570.5 386.0,555.4 400.9,569.3 432.5,569.3 433.0,568.4 437.4,568.4 438.0,569.3 446.7,569.3 447.0,570.5 452.3,570.5 468.8,525.7 485.4,570.5 492.6,569.3 511.8,569.3 512.0,568.4 521.0,568.4 521.5,569.3 529.3,569.3 529.5,570.5 536.7,570.5 552.0,562.5 568.3,570.5 587.5,570.5 588.0,569.3 599.3,569.3 599.5,568.4 604.3,568.4 604.5,569.3 614.2,569.3 614.5,570.5 620.4,570.5 635.9,564.1 652.0,528.7 668.4,569.3 675.0,569.3" fill="none" stroke="#bf3b3b" stroke-width="1.3" stroke-linejoin="round" shape-rendering="crispEdges"/>
<text x="149.54" y="481.3" font-size="10.9" fill="#f2f2f2" textLength="17.19" lengthAdjust="spacingAndGlyphs">4 K</text>
<text x="149.21" y="531.3" font-size="10.9" fill="#f2f2f2" textLength="17.52" lengthAdjust="spacingAndGlyphs">2 K</text>
<text x="161.19" y="581.3" font-size="10.9" fill="#f2f2f2" textLength="5.82" lengthAdjust="spacingAndGlyphs">0</text>
<line x1="177" y1="477.5" x2="677" y2="477.5" stroke="#ffffff" stroke-opacity="0.07" stroke-dasharray="2 2" shape-rendering="crispEdges"/>
<line x1="177" y1="527.5" x2="677" y2="527.5" stroke="#ffffff" stroke-opacity="0.07" stroke-dasharray="2 2" shape-rendering="crispEdges"/>
<line x1="192.5" y1="477" x2="192.5" y2="578" stroke="#ffffff" stroke-opacity="0.07" stroke-dasharray="2 2" shape-rendering="crispEdges"/>
<line x1="234.5" y1="477" x2="234.5" y2="578" stroke="#ffffff" stroke-opacity="0.07" stroke-dasharray="2 2" shape-rendering="crispEdges"/>
<line x1="276.5" y1="477" x2="276.5" y2="578" stroke="#ffffff" stroke-opacity="0.07" stroke-dasharray="2 2" shape-rendering="crispEdges"/>
<line x1="317.5" y1="477" x2="317.5" y2="578" stroke="#ffffff" stroke-opacity="0.07" stroke-dasharray="2 2" shape-rendering="crispEdges"/>
<line x1="359.5" y1="477" x2="359.5" y2="578" stroke="#ffffff" stroke-opacity="0.07" stroke-dasharray="2 2" shape-rendering="crispEdges"/>
<line x1="401.5" y1="477" x2="401.5" y2="578" stroke="#ffffff" stroke-opacity="0.07" stroke-dasharray="2 2" shape-rendering="crispEdges"/>
<line x1="442.5" y1="477" x2="442.5" y2="578" stroke="#ffffff" stroke-opacity="0.07" stroke-dasharray="2 2" shape-rendering="crispEdges"/>
<line x1="484.5" y1="477" x2="484.5" y2="578" stroke="#ffffff" stroke-opacity="0.07" stroke-dasharray="2 2" shape-rendering="crispEdges"/>
<line x1="526.5" y1="477" x2="526.5" y2="578" stroke="#ffffff" stroke-opacity="0.07" stroke-dasharray="2 2" shape-rendering="crispEdges"/>
<line x1="567.5" y1="477" x2="567.5" y2="578" stroke="#ffffff" stroke-opacity="0.07" stroke-dasharray="2 2" shape-rendering="crispEdges"/>
<line x1="609.5" y1="477" x2="609.5" y2="578" stroke="#ffffff" stroke-opacity="0.07" stroke-dasharray="2 2" shape-rendering="crispEdges"/>
<line x1="676.5" y1="477" x2="676.5" y2="578" stroke="#ffffff" stroke-opacity="0.07" stroke-dasharray="2 2" shape-rendering="crispEdges"/>
<text transform="translate(196.66666666666666,604.8) rotate(-90)" font-size="10.5" fill="#f2f2f2" textLength="21.8" lengthAdjust="spacingAndGlyphs">13:50</text>
<text transform="translate(238.33333333333334,604.8) rotate(-90)" font-size="10.5" fill="#f2f2f2" textLength="21.8" lengthAdjust="spacingAndGlyphs">13:55</text>
<text transform="translate(279.4,607.5) rotate(-90)" font-size="10.6" fill="#e45959" textLength="25.6" lengthAdjust="spacingAndGlyphs">14:00</text>
<text transform="translate(321.66666666666663,604.8) rotate(-90)" font-size="10.5" fill="#f2f2f2" textLength="21.8" lengthAdjust="spacingAndGlyphs">14:05</text>
<text transform="translate(363.33333333333337,604.8) rotate(-90)" font-size="10.5" fill="#f2f2f2" textLength="21.8" lengthAdjust="spacingAndGlyphs">14:10</text>
<text transform="translate(405.0,604.8) rotate(-90)" font-size="10.5" fill="#f2f2f2" textLength="21.8" lengthAdjust="spacingAndGlyphs">14:15</text>
<text transform="translate(446.6666666666667,604.8) rotate(-90)" font-size="10.5" fill="#f2f2f2" textLength="21.8" lengthAdjust="spacingAndGlyphs">14:20</text>
<text transform="translate(488.3333333333333,604.8) rotate(-90)" font-size="10.5" fill="#f2f2f2" textLength="21.8" lengthAdjust="spacingAndGlyphs">14:25</text>
<text transform="translate(530.0,604.8) rotate(-90)" font-size="10.5" fill="#f2f2f2" textLength="21.8" lengthAdjust="spacingAndGlyphs">14:30</text>
<text transform="translate(571.6666666666667,604.8) rotate(-90)" font-size="10.5" fill="#f2f2f2" textLength="21.8" lengthAdjust="spacingAndGlyphs">14:35</text>
<text transform="translate(613.3333333333333,604.8) rotate(-90)" font-size="10.5" fill="#f2f2f2" textLength="21.8" lengthAdjust="spacingAndGlyphs">14:40</text>
<text transform="translate(179.7,640.8) rotate(-90)" font-size="10.6" fill="#e45959" textLength="59" lengthAdjust="spacingAndGlyphs">03-26 13:48</text>
<text transform="translate(679.7,640.8) rotate(-90)" font-size="10.6" fill="#e45959" textLength="59" lengthAdjust="spacingAndGlyphs">03-26 14:48</text>
<path transform="translate(335.50,657) scale(1.020)" d="M2 0.5H8V4H2Z M2 2.2H8 M0 4.8H10 M1.6 4.8V9.4 M4.2 4.8V10 M1.6 6.4H4.2 M1.6 8H4.2 M0 9.6L4.2 8.8 M5.4 5.8H9L5.6 10 M6.2 6.8L10 10" fill="none" stroke="#f2f2f2" stroke-width="0.980"/>
<path transform="translate(347.10,657) scale(1.020)" d="M2.5 0V1 M0.5 1.6H4.5 M1.3 2.3L1.8 3.6 M3.7 2.3L3.2 3.6 M0 4.2H5 M0.4 6.2H4.6 M2.5 4.2V10 M2.5 7L0.3 9.4 M2.5 7.2L4.5 8.8 M9.6 0.4L6.2 1.6V7.6L5.2 10 M6.2 4.6H10 M8.6 4.6V10" fill="none" stroke="#f2f2f2" stroke-width="0.980"/>
<path transform="translate(435.60,657) scale(1.020)" d="M2 0.5H8V4H2Z M2 2.2H8 M0 4.8H10 M1.6 4.8V9.4 M4.2 4.8V10 M1.6 6.4H4.2 M1.6 8H4.2 M0 9.6L4.2 8.8 M5.4 5.8H9L5.6 10 M6.2 6.8L10 10" fill="none" stroke="#f2f2f2" stroke-width="0.980"/>
<path transform="translate(447.20,657) scale(1.020)" d="M6 0.2V9.6L4.6 9.1 M3.2 3.4L1.3 8.6 M8.2 3.4L10.2 8.4" fill="none" stroke="#f2f2f2" stroke-width="0.980"/>
<path transform="translate(550.60,657) scale(1.020)" d="M1.2 1.2H8.8 M2.6 2.8L3.4 4.6 M7.4 2.8L6.6 4.6 M0.3 6H9.7 M5 1.2V10" fill="none" stroke="#f2f2f2" stroke-width="0.980"/>
<path transform="translate(562.20,657) scale(1.020)" d="M0.2 3.6H3.8 M2 1V8 M0 8.8L4 7.4 M6.2 0.3L5.2 3.2 M5.6 2.2H9.4V9.4L8.2 9.6 M6.4 4.2L7.6 5.2 M5.6 8.2L8.4 6.6" fill="none" stroke="#f2f2f2" stroke-width="0.980"/>
<path transform="translate(671.60,657) scale(1.020)" d="M2 0.5H8V4H2Z M2 2.2H8 M0 4.8H10 M1.6 4.8V9.4 M4.2 4.8V10 M1.6 6.4H4.2 M1.6 8H4.2 M0 9.6L4.2 8.8 M5.4 5.8H9L5.6 10 M6.2 6.8L10 10" fill="none" stroke="#f2f2f2" stroke-width="0.980"/>
<path transform="translate(683.20,657) scale(1.020)" d="M0.4 3.6H9.6 M5 0V4.2Q4.6 7.6 0.4 10 M5.4 4.6L10 10" fill="none" stroke="#f2f2f2" stroke-width="0.980"/>
<rect x="101" y="671.0" width="11" height="11" fill="#c03030"/>
<rect x="101.5" y="671.5" width="10" height="10" fill="none" stroke="#000" stroke-opacity="0.55"/>
<text x="116.95" y="680.5" font-size="12" fill="#f2f2f2" textLength="72.73" lengthAdjust="spacingAndGlyphs">Waits File I/O</text>
<text x="257.5" y="680.5" font-size="12" fill="#f2f2f2">[</text>
<path transform="translate(261.30,671.5) scale(1.020)" d="M1.2 1.2H8.8 M2.6 2.8L3.4 4.6 M7.4 2.8L6.6 4.6 M0.3 6H9.7 M5 1.2V10" fill="none" stroke="#f2f2f2" stroke-width="0.980"/>
<path transform="translate(272.90,671.5) scale(1.020)" d="M0.2 3.6H3.8 M2 1V8 M0 8.8L4 7.4 M6.2 0.3L5.2 3.2 M5.6 2.2H9.4V9.4L8.2 9.6 M6.4 4.2L7.6 5.2 M5.6 8.2L8.4 6.6" fill="none" stroke="#f2f2f2" stroke-width="0.980"/>
<text x="284.7" y="680.5" font-size="12" fill="#f2f2f2">]</text>
<text x="320.18" y="680.5" font-size="12" fill="#f2f2f2" textLength="68.57" lengthAdjust="spacingAndGlyphs">0 ms waits/s</text>
<text x="420.08" y="680.5" font-size="12" fill="#f2f2f2" textLength="68.57" lengthAdjust="spacingAndGlyphs">0 ms waits/s</text>
<text x="550.88" y="680.5" font-size="12" fill="#f2f2f2" textLength="68.57" lengthAdjust="spacingAndGlyphs">0 ms waits/s</text>
<text x="661.23" y="680.5" font-size="12" fill="#f2f2f2" textLength="44.77" lengthAdjust="spacingAndGlyphs">0 ms wa</text>
<rect x="101" y="685.0" width="11" height="11" fill="#00e0e0"/>
<rect x="101.5" y="685.5" width="10" height="10" fill="none" stroke="#000" stroke-opacity="0.55"/>
<text x="116.02" y="694.5" font-size="12" fill="#f2f2f2" textLength="99.91" lengthAdjust="spacingAndGlyphs">LI/O Block Change</text>
<text x="257.5" y="694.5" font-size="12" fill="#f2f2f2">[</text>
<path transform="translate(261.30,685.5) scale(1.020)" d="M1.2 1.2H8.8 M2.6 2.8L3.4 4.6 M7.4 2.8L6.6 4.6 M0.3 6H9.7 M5 1.2V10" fill="none" stroke="#f2f2f2" stroke-width="0.980"/>
<path transform="translate(272.90,685.5) scale(1.020)" d="M0.2 3.6H3.8 M2 1V8 M0 8.8L4 7.4 M6.2 0.3L5.2 3.2 M5.6 2.2H9.4V9.4L8.2 9.6 M6.4 4.2L7.6 5.2 M5.6 8.2L8.4 6.6" fill="none" stroke="#f2f2f2" stroke-width="0.980"/>
<text x="284.7" y="694.5" font-size="12" fill="#f2f2f2">]</text>
<text x="321.33" y="694.5" font-size="12" fill="#f2f2f2" textLength="67.29" lengthAdjust="spacingAndGlyphs">0 Blocks/sec</text>
<text x="421.23" y="694.5" font-size="12" fill="#f2f2f2" textLength="67.29" lengthAdjust="spacingAndGlyphs">0 Blocks/sec</text>
<text x="514.05" y="694.5" font-size="12" fill="#f2f2f2" textLength="105.27" lengthAdjust="spacingAndGlyphs">72.0667 Blocks/sec</text>
<text x="637.60" y="694.5" font-size="12" fill="#f2f2f2" textLength="68.82" lengthAdjust="spacingAndGlyphs">1.51 KBlocks</text>
<rect x="101" y="699.0" width="11" height="11" fill="#0000e0"/>
<rect x="101.5" y="699.5" width="10" height="10" fill="none" stroke="#000" stroke-opacity="0.55"/>
<text x="116.00" y="708.5" font-size="12" fill="#f2f2f2" textLength="123.29" lengthAdjust="spacingAndGlyphs">LI/O Consinstent Read</text>
<text x="257.5" y="708.5" font-size="12" fill="#f2f2f2">[</text>
<path transform="translate(261.30,699.5) scale(1.020)" d="M1.2 1.2H8.8 M2.6 2.8L3.4 4.6 M7.4 2.8L6.6 4.6 M0.3 6H9.7 M5 1.2V10" fill="none" stroke="#f2f2f2" stroke-width="0.980"/>
<path transform="translate(272.90,699.5) scale(1.020)" d="M0.2 3.6H3.8 M2 1V8 M0 8.8L4 7.4 M6.2 0.3L5.2 3.2 M5.6 2.2H9.4V9.4L8.2 9.6 M6.4 4.2L7.6 5.2 M5.6 8.2L8.4 6.6" fill="none" stroke="#f2f2f2" stroke-width="0.980"/>
<text x="284.7" y="708.5" font-size="12" fill="#f2f2f2">]</text>
<text x="307.27" y="708.5" font-size="12" fill="#f2f2f2" textLength="81.35" lengthAdjust="spacingAndGlyphs">287 Blocks/sec</text>
<text x="407.17" y="708.5" font-size="12" fill="#f2f2f2" textLength="81.35" lengthAdjust="spacingAndGlyphs">246 Blocks/sec</text>
<text x="507.13" y="708.5" font-size="12" fill="#f2f2f2" textLength="112.19" lengthAdjust="spacingAndGlyphs">527.2667 Blocks/sec</text>
<text x="637.91" y="708.5" font-size="12" fill="#f2f2f2" textLength="68.51" lengthAdjust="spacingAndGlyphs">2.06 KBlocks</text>
<text x="325.98" y="765" font-size="14.5" fill="#f2f2f2" textLength="147.84" lengthAdjust="spacingAndGlyphs">c119: Session/Process</text>
<line x1="176.5" y1="772" x2="176.5" y2="882" stroke="#5e5e5e" shape-rendering="crispEdges"/>
<polygon points="176.5,767.2 173,773 180,773" fill="#707070"/>
<polygon points="176.5,768.8 174.4,772.4 178.6,772.4" fill="#f4f4f4"/>
<line x1="173" y1="878.5" x2="681" y2="878.5" stroke="#5e5e5e" shape-rendering="crispEdges"/>
<polygon points="687,878.5 681.3,875 681.3,882" fill="#707070"/>
<polygon points="685.8,878.5 682,876.4 682,880.6" fill="#f4f4f4"/>
<line x1="177" y1="777.5" x2="677" y2="777.5" stroke="#ffffff" stroke-opacity="0.16" stroke-dasharray="2 2" shape-rendering="crispEdges"/>
<line x1="177" y1="827.5" x2="677" y2="827.5" stroke="#ffffff" stroke-opacity="0.16" stroke-dasharray="2 2" shape-rendering="crispEdges"/>
<line x1="192.5" y1="777" x2="192.5" y2="878" stroke="#ffffff" stroke-opacity="0.16" stroke-dasharray="2 2" shape-rendering="crispEdges"/>
<line x1="234.5" y1="777" x2="234.5" y2="878" stroke="#ffffff" stroke-opacity="0.16" stroke-dasharray="2 2" shape-rendering="crispEdges"/>
<line x1="276.5" y1="777" x2="276.5" y2="878" stroke="#ffffff" stroke-opacity="0.16" stroke-dasharray="2 2" shape-rendering="crispEdges"/>
<line x1="317.5" y1="777" x2="317.5" y2="878" stroke="#ffffff" stroke-opacity="0.16" stroke-dasharray="2 2" shape-rendering="crispEdges"/>
<line x1="359.5" y1="777" x2="359.5" y2="878" stroke="#ffffff" stroke-opacity="0.16" stroke-dasharray="2 2" shape-rendering="crispEdges"/>
<line x1="401.5" y1="777" x2="401.5" y2="878" stroke="#ffffff" stroke-opacity="0.16" stroke-dasharray="2 2" shape-rendering="crispEdges"/>
<line x1="442.5" y1="777" x2="442.5" y2="878" stroke="#ffffff" stroke-opacity="0.16" stroke-dasharray="2 2" shape-rendering="crispEdges"/>
<line x1="484.5" y1="777" x2="484.5" y2="878" stroke="#ffffff" stroke-opacity="0.16" stroke-dasharray="2 2" shape-rendering="crispEdges"/>
<line x1="526.5" y1="777" x2="526.5" y2="878" stroke="#ffffff" stroke-opacity="0.16" stroke-dasharray="2 2" shape-rendering="crispEdges"/>
<line x1="567.5" y1="777" x2="567.5" y2="878" stroke="#ffffff" stroke-opacity="0.16" stroke-dasharray="2 2" shape-rendering="crispEdges"/>
<line x1="609.5" y1="777" x2="609.5" y2="878" stroke="#ffffff" stroke-opacity="0.16" stroke-dasharray="2 2" shape-rendering="crispEdges"/>
<line x1="676.5" y1="777" x2="676.5" y2="878" stroke="#ffffff" stroke-opacity="0.16" stroke-dasharray="2 2" shape-rendering="crispEdges"/>
<polyline points="176.0,815.5 202.9,815.5 219.2,810.5 235.5,815.5 286.2,815.5 302.5,810.5 318.8,815.5 369.6,815.5 385.9,810.5 402.2,815.5 452.9,815.5 469.2,810.5 485.5,815.5 536.2,815.5 552.5,810.5 568.8,815.5 619.5,815.5 635.8,810.5 652.1,815.5 675.0,815.5" fill="none" stroke="#009600" stroke-width="1.6" stroke-linejoin="round"/>
<polyline points="176.0,822.5 202.9,822.5 219.2,817.5 235.5,822.5 286.2,822.5 302.5,817.5 318.8,822.5 369.6,822.5 385.9,817.5 402.2,822.5 452.9,822.5 469.2,817.5 485.5,822.5 536.2,822.5 552.5,817.5 568.8,822.5 619.5,822.5 635.8,817.5 652.1,822.5 675.0,822.5" fill="none" stroke="#0000ff" stroke-width="1.6" stroke-linejoin="round"/>
<text x="155.45" y="781.3" font-size="10.9" fill="#f2f2f2" textLength="12.28" lengthAdjust="spacingAndGlyphs">40</text>
<text x="155.13" y="831.3" font-size="10.9" fill="#f2f2f2" textLength="12.61" lengthAdjust="spacingAndGlyphs">20</text>
<text x="161.13" y="881.3" font-size="10.9" fill="#f2f2f2" textLength="6.63" lengthAdjust="spacingAndGlyphs">0</text>
<line x1="177" y1="777.5" x2="677" y2="777.5" stroke="#ffffff" stroke-opacity="0.07" stroke-dasharray="2 2" shape-rendering="crispEdges"/>
<line x1="177" y1="827.5" x2="677" y2="827.5" stroke="#ffffff" stroke-opacity="0.07" stroke-dasharray="2 2" shape-rendering="crispEdges"/>
<line x1="192.5" y1="777" x2="192.5" y2="878" stroke="#ffffff" stroke-opacity="0.07" stroke-dasharray="2 2" shape-rendering="crispEdges"/>
<line x1="234.5" y1="777" x2="234.5" y2="878" stroke="#ffffff" stroke-opacity="0.07" stroke-dasharray="2 2" shape-rendering="crispEdges"/>
<line x1="276.5" y1="777" x2="276.5" y2="878" stroke="#ffffff" stroke-opacity="0.07" stroke-dasharray="2 2" shape-rendering="crispEdges"/>
<line x1="317.5" y1="777" x2="317.5" y2="878" stroke="#ffffff" stroke-opacity="0.07" stroke-dasharray="2 2" shape-rendering="crispEdges"/>
<line x1="359.5" y1="777" x2="359.5" y2="878" stroke="#ffffff" stroke-opacity="0.07" stroke-dasharray="2 2" shape-rendering="crispEdges"/>
<line x1="401.5" y1="777" x2="401.5" y2="878" stroke="#ffffff" stroke-opacity="0.07" stroke-dasharray="2 2" shape-rendering="crispEdges"/>
<line x1="442.5" y1="777" x2="442.5" y2="878" stroke="#ffffff" stroke-opacity="0.07" stroke-dasharray="2 2" shape-rendering="crispEdges"/>
<line x1="484.5" y1="777" x2="484.5" y2="878" stroke="#ffffff" stroke-opacity="0.07" stroke-dasharray="2 2" shape-rendering="crispEdges"/>
<line x1="526.5" y1="777" x2="526.5" y2="878" stroke="#ffffff" stroke-opacity="0.07" stroke-dasharray="2 2" shape-rendering="crispEdges"/>
<line x1="567.5" y1="777" x2="567.5" y2="878" stroke="#ffffff" stroke-opacity="0.07" stroke-dasharray="2 2" shape-rendering="crispEdges"/>
<line x1="609.5" y1="777" x2="609.5" y2="878" stroke="#ffffff" stroke-opacity="0.07" stroke-dasharray="2 2" shape-rendering="crispEdges"/>
<line x1="676.5" y1="777" x2="676.5" y2="878" stroke="#ffffff" stroke-opacity="0.07" stroke-dasharray="2 2" shape-rendering="crispEdges"/>
<text transform="translate(196.66666666666666,904.8) rotate(-90)" font-size="10.5" fill="#f2f2f2" textLength="21.8" lengthAdjust="spacingAndGlyphs">13:50</text>
<text transform="translate(238.33333333333334,904.8) rotate(-90)" font-size="10.5" fill="#f2f2f2" textLength="21.8" lengthAdjust="spacingAndGlyphs">13:55</text>
<text transform="translate(279.4,907.5) rotate(-90)" font-size="10.6" fill="#e45959" textLength="25.6" lengthAdjust="spacingAndGlyphs">14:00</text>
<text transform="translate(321.66666666666663,904.8) rotate(-90)" font-size="10.5" fill="#f2f2f2" textLength="21.8" lengthAdjust="spacingAndGlyphs">14:05</text>
<text transform="translate(363.33333333333337,904.8) rotate(-90)" font-size="10.5" fill="#f2f2f2" textLength="21.8" lengthAdjust="spacingAndGlyphs">14:10</text>
<text transform="translate(405.0,904.8) rotate(-90)" font-size="10.5" fill="#f2f2f2" textLength="21.8" lengthAdjust="spacingAndGlyphs">14:15</text>
<text transform="translate(446.6666666666667,904.8) rotate(-90)" font-size="10.5" fill="#f2f2f2" textLength="21.8" lengthAdjust="spacingAndGlyphs">14:20</text>
<text transform="translate(488.3333333333333,904.8) rotate(-90)" font-size="10.5" fill="#f2f2f2" textLength="21.8" lengthAdjust="spacingAndGlyphs">14:25</text>
<text transform="translate(530.0,904.8) rotate(-90)" font-size="10.5" fill="#f2f2f2" textLength="21.8" lengthAdjust="spacingAndGlyphs">14:30</text>
<text transform="translate(571.6666666666667,904.8) rotate(-90)" font-size="10.5" fill="#f2f2f2" textLength="21.8" lengthAdjust="spacingAndGlyphs">14:35</text>
<text transform="translate(613.3333333333333,904.8) rotate(-90)" font-size="10.5" fill="#f2f2f2" textLength="21.8" lengthAdjust="spacingAndGlyphs">14:40</text>
<text transform="translate(179.7,940.8) rotate(-90)" font-size="10.6" fill="#e45959" textLength="59" lengthAdjust="spacingAndGlyphs">03-26 13:48</text>
<text transform="translate(679.7,940.8) rotate(-90)" font-size="10.6" fill="#e45959" textLength="59" lengthAdjust="spacingAndGlyphs">03-26 14:48</text>
<path transform="translate(1105.50,8.5) scale(1.020)" d="M2 0.5H8V4H2Z M2 2.2H8 M0 4.8H10 M1.6 4.8V9.4 M4.2 4.8V10 M1.6 6.4H4.2 M1.6 8H4.2 M0 9.6L4.2 8.8 M5.4 5.8H9L5.6 10 M6.2 6.8L10 10" fill="none" stroke="#f2f2f2" stroke-width="0.980"/>
<path transform="translate(1117.10,8.5) scale(1.020)" d="M2.5 0V1 M0.5 1.6H4.5 M1.3 2.3L1.8 3.6 M3.7 2.3L3.2 3.6 M0 4.2H5 M0.4 6.2H4.6 M2.5 4.2V10 M2.5 7L0.3 9.4 M2.5 7.2L4.5 8.8 M9.6 0.4L6.2 1.6V7.6L5.2 10 M6.2 4.6H10 M8.6 4.6V10" fill="none" stroke="#f2f2f2" stroke-width="0.980"/>
<path transform="translate(1165.50,8.5) scale(1.020)" d="M2 0.5H8V4H2Z M2 2.2H8 M0 4.8H10 M1.6 4.8V9.4 M4.2 4.8V10 M1.6 6.4H4.2 M1.6 8H4.2 M0 9.6L4.2 8.8 M5.4 5.8H9L5.6 10 M6.2 6.8L10 10" fill="none" stroke="#f2f2f2" stroke-width="0.980"/>
<path transform="translate(1177.10,8.5) scale(1.020)" d="M6 0.2V9.6L4.6 9.1 M3.2 3.4L1.3 8.6 M8.2 3.4L10.2 8.4" fill="none" stroke="#f2f2f2" stroke-width="0.980"/>
<path transform="translate(1225.50,8.5) scale(1.020)" d="M1.2 1.2H8.8 M2.6 2.8L3.4 4.6 M7.4 2.8L6.6 4.6 M0.3 6H9.7 M5 1.2V10" fill="none" stroke="#f2f2f2" stroke-width="0.980"/>
<path transform="translate(1237.10,8.5) scale(1.020)" d="M0.2 3.6H3.8 M2 1V8 M0 8.8L4 7.4 M6.2 0.3L5.2 3.2 M5.6 2.2H9.4V9.4L8.2 9.6 M6.4 4.2L7.6 5.2 M5.6 8.2L8.4 6.6" fill="none" stroke="#f2f2f2" stroke-width="0.980"/>
<path transform="translate(1285.20,8.5) scale(1.020)" d="M2 0.5H8V4H2Z M2 2.2H8 M0 4.8H10 M1.6 4.8V9.4 M4.2 4.8V10 M1.6 6.4H4.2 M1.6 8H4.2 M0 9.6L4.2 8.8 M5.4 5.8H9L5.6 10 M6.2 6.8L10 10" fill="none" stroke="#f2f2f2" stroke-width="0.980"/>
<path transform="translate(1296.80,8.5) scale(1.020)" d="M0.4 3.6H9.6 M5 0V4.2Q4.6 7.6 0.4 10 M5.4 4.6L10 10" fill="none" stroke="#f2f2f2" stroke-width="0.980"/>
<rect x="944" y="22" width="11" height="11" fill="#008a00"/>
<rect x="944.5" y="22.5" width="10" height="10" fill="none" stroke="#000" stroke-opacity="0.55"/>
<text x="959.36" y="31.5" font-size="12" fill="#f2f2f2" textLength="41.35" lengthAdjust="spacingAndGlyphs">DB Size</text>
<text x="1047.5" y="31.5" font-size="12" fill="#f2f2f2">[</text>
<path transform="translate(1051.30,22.5) scale(1.020)" d="M1.2 1.2H8.8 M2.6 2.8L3.4 4.6 M7.4 2.8L6.6 4.6 M0.3 6H9.7 M5 1.2V10" fill="none" stroke="#f2f2f2" stroke-width="0.980"/>
<path transform="translate(1062.90,22.5) scale(1.020)" d="M0.2 3.6H3.8 M2 1V8 M0 8.8L4 7.4 M6.2 0.3L5.2 3.2 M5.6 2.2H9.4V9.4L8.2 9.6 M6.4 4.2L7.6 5.2 M5.6 8.2L8.4 6.6" fill="none" stroke="#f2f2f2" stroke-width="0.980"/>
<text x="1074.7" y="31.5" font-size="12" fill="#f2f2f2">]</text>
<text x="1099.43" y="31.5" font-size="12" fill="#f2f2f2" textLength="39.88" lengthAdjust="spacingAndGlyphs">113 MB</text>
<text x="1159.13" y="31.5" font-size="12" fill="#f2f2f2" textLength="39.88" lengthAdjust="spacingAndGlyphs">113 MB</text>
<text x="1219.13" y="31.5" font-size="12" fill="#f2f2f2" textLength="39.88" lengthAdjust="spacingAndGlyphs">113 MB</text>
<text x="1279.33" y="31.5" font-size="12" fill="#f2f2f2" textLength="39.88" lengthAdjust="spacingAndGlyphs">113 MB</text>
<rect x="944" y="36" width="11" height="11" fill="#0000cc"/>
<rect x="944.5" y="36.5" width="10" height="10" fill="none" stroke="#000" stroke-opacity="0.55"/>
<text x="959.35" y="45.5" font-size="12" fill="#f2f2f2" textLength="69.57" lengthAdjust="spacingAndGlyphs">DB Files Size</text>
<text x="1047.5" y="45.5" font-size="12" fill="#f2f2f2">[</text>
<path transform="translate(1051.30,36.5) scale(1.020)" d="M1.2 1.2H8.8 M2.6 2.8L3.4 4.6 M7.4 2.8L6.6 4.6 M0.3 6H9.7 M5 1.2V10" fill="none" stroke="#f2f2f2" stroke-width="0.980"/>
<path transform="translate(1062.90,36.5) scale(1.020)" d="M0.2 3.6H3.8 M2 1V8 M0 8.8L4 7.4 M6.2 0.3L5.2 3.2 M5.6 2.2H9.4V9.4L8.2 9.6 M6.4 4.2L7.6 5.2 M5.6 8.2L8.4 6.6" fill="none" stroke="#f2f2f2" stroke-width="0.980"/>
<text x="1074.7" y="45.5" font-size="12" fill="#f2f2f2">]</text>
<text x="1099.43" y="45.5" font-size="12" fill="#f2f2f2" textLength="39.88" lengthAdjust="spacingAndGlyphs">118 MB</text>
<text x="1159.13" y="45.5" font-size="12" fill="#f2f2f2" textLength="39.88" lengthAdjust="spacingAndGlyphs">118 MB</text>
<text x="1219.13" y="45.5" font-size="12" fill="#f2f2f2" textLength="39.88" lengthAdjust="spacingAndGlyphs">118 MB</text>
<text x="1279.33" y="45.5" font-size="12" fill="#f2f2f2" textLength="39.88" lengthAdjust="spacingAndGlyphs">118 MB</text>
<text x="1193.97" y="123" font-size="14.5" fill="#f2f2f2" textLength="97.96" lengthAdjust="spacingAndGlyphs">c119: Hit Ratio</text>
<line x1="1019.5" y1="130" x2="1019.5" y2="240" stroke="#5e5e5e" shape-rendering="crispEdges"/>
<polygon points="1019.5,125.2 1016,131 1023,131" fill="#707070"/>
<polygon points="1019.5,126.8 1017.4,130.4 1021.6,130.4" fill="#f4f4f4"/>
<line x1="1016" y1="236.5" x2="1524" y2="236.5" stroke="#5e5e5e" shape-rendering="crispEdges"/>
<polygon points="1530,236.5 1524.3,233 1524.3,240" fill="#707070"/>
<polygon points="1528.8,236.5 1525,234.4 1525,238.6" fill="#f4f4f4"/>
<line x1="1020" y1="135.5" x2="1520" y2="135.5" stroke="#ffffff" stroke-opacity="0.16" stroke-dasharray="2 2" shape-rendering="crispEdges"/>
<line x1="1020" y1="185.5" x2="1520" y2="185.5" stroke="#ffffff" stroke-opacity="0.16" stroke-dasharray="2 2" shape-rendering="crispEdges"/>
<line x1="1035.5" y1="135" x2="1035.5" y2="236" stroke="#ffffff" stroke-opacity="0.16" stroke-dasharray="2 2" shape-rendering="crispEdges"/>
<line x1="1077.5" y1="135" x2="1077.5" y2="236" stroke="#ffffff" stroke-opacity="0.16" stroke-dasharray="2 2" shape-rendering="crispEdges"/>
<line x1="1119.5" y1="135" x2="1119.5" y2="236" stroke="#ffffff" stroke-opacity="0.16" stroke-dasharray="2 2" shape-rendering="crispEdges"/>
<line x1="1160.5" y1="135" x2="1160.5" y2="236" stroke="#ffffff" stroke-opacity="0.16" stroke-dasharray="2 2" shape-rendering="crispEdges"/>
<line x1="1202.5" y1="135" x2="1202.5" y2="236" stroke="#ffffff" stroke-opacity="0.16" stroke-dasharray="2 2" shape-rendering="crispEdges"/>
<line x1="1244.5" y1="135" x2="1244.5" y2="236" stroke="#ffffff" stroke-opacity="0.16" stroke-dasharray="2 2" shape-rendering="crispEdges"/>
<line x1="1285.5" y1="135" x2="1285.5" y2="236" stroke="#ffffff" stroke-opacity="0.16" stroke-dasharray="2 2" shape-rendering="crispEdges"/>
<line x1="1327.5" y1="135" x2="1327.5" y2="236" stroke="#ffffff" stroke-opacity="0.16" stroke-dasharray="2 2" shape-rendering="crispEdges"/>
<line x1="1369.5" y1="135" x2="1369.5" y2="236" stroke="#ffffff" stroke-opacity="0.16" stroke-dasharray="2 2" shape-rendering="crispEdges"/>
<line x1="1410.5" y1="135" x2="1410.5" y2="236" stroke="#ffffff" stroke-opacity="0.16" stroke-dasharray="2 2" shape-rendering="crispEdges"/>
<line x1="1452.5" y1="135" x2="1452.5" y2="236" stroke="#ffffff" stroke-opacity="0.16" stroke-dasharray="2 2" shape-rendering="crispEdges"/>
<line x1="1519.5" y1="135" x2="1519.5" y2="236" stroke="#ffffff" stroke-opacity="0.16" stroke-dasharray="2 2" shape-rendering="crispEdges"/>
<polyline points="1019.0,137.5 1518.0,137.5" fill="none" stroke="#00a000" stroke-width="1" stroke-linejoin="round" shape-rendering="crispEdges"/>
<polyline points="1019.0,153.5 1113.0,153.5 1142.0,151.5 1214.0,151.5 1228.0,150.5 1380.0,150.5 1393.0,149.5 1497.0,149.5 1510.0,148.5 1518.0,148.5" fill="none" stroke="#e8e82a" stroke-width="1" stroke-linejoin="round"/>
<polyline points="1019.0,186.5 1047.0,186.5 1060.0,185.5 1114.0,185.5 1128.0,184.5 1214.0,184.5 1224.0,183.5 1313.5,183.5 1327.0,182.5 1447.0,182.5 1460.0,181.5 1518.0,181.5" fill="none" stroke="#ee88ee" stroke-width="1" stroke-linejoin="round"/>
<polyline points="1019.0,235.5 1518.0,235.5" fill="none" stroke="#0000cc" stroke-width="1" stroke-linejoin="round" shape-rendering="crispEdges"/>
<text x="982.23" y="139.3" font-size="10.9" fill="#f2f2f2" textLength="28.73" lengthAdjust="spacingAndGlyphs">100 %</text>
<text x="985.96" y="189.3" font-size="10.9" fill="#f2f2f2" textLength="25.03" lengthAdjust="spacingAndGlyphs">50 %</text>
<text x="992.17" y="239.3" font-size="10.9" fill="#f2f2f2" textLength="18.82" lengthAdjust="spacingAndGlyphs">0 %</text>
<line x1="1020" y1="135.5" x2="1520" y2="135.5" stroke="#ffffff" stroke-opacity="0.07" stroke-dasharray="2 2" shape-rendering="crispEdges"/>
<line x1="1020" y1="185.5" x2="1520" y2="185.5" stroke="#ffffff" stroke-opacity="0.07" stroke-dasharray="2 2" shape-rendering="crispEdges"/>
<line x1="1035.5" y1="135" x2="1035.5" y2="236" stroke="#ffffff" stroke-opacity="0.07" stroke-dasharray="2 2" shape-rendering="crispEdges"/>
<line x1="1077.5" y1="135" x2="1077.5" y2="236" stroke="#ffffff" stroke-opacity="0.07" stroke-dasharray="2 2" shape-rendering="crispEdges"/>
<line x1="1119.5" y1="135" x2="1119.5" y2="236" stroke="#ffffff" stroke-opacity="0.07" stroke-dasharray="2 2" shape-rendering="crispEdges"/>
<line x1="1160.5" y1="135" x2="1160.5" y2="236" stroke="#ffffff" stroke-opacity="0.07" stroke-dasharray="2 2" shape-rendering="crispEdges"/>
<line x1="1202.5" y1="135" x2="1202.5" y2="236" stroke="#ffffff" stroke-opacity="0.07" stroke-dasharray="2 2" shape-rendering="crispEdges"/>
<line x1="1244.5" y1="135" x2="1244.5" y2="236" stroke="#ffffff" stroke-opacity="0.07" stroke-dasharray="2 2" shape-rendering="crispEdges"/>
<line x1="1285.5" y1="135" x2="1285.5" y2="236" stroke="#ffffff" stroke-opacity="0.07" stroke-dasharray="2 2" shape-rendering="crispEdges"/>
<line x1="1327.5" y1="135" x2="1327.5" y2="236" stroke="#ffffff" stroke-opacity="0.07" stroke-dasharray="2 2" shape-rendering="crispEdges"/>
<line x1="1369.5" y1="135" x2="1369.5" y2="236" stroke="#ffffff" stroke-opacity="0.07" stroke-dasharray="2 2" shape-rendering="crispEdges"/>
<line x1="1410.5" y1="135" x2="1410.5" y2="236" stroke="#ffffff" stroke-opacity="0.07" stroke-dasharray="2 2" shape-rendering="crispEdges"/>
<line x1="1452.5" y1="135" x2="1452.5" y2="236" stroke="#ffffff" stroke-opacity="0.07" stroke-dasharray="2 2" shape-rendering="crispEdges"/>
<line x1="1519.5" y1="135" x2="1519.5" y2="236" stroke="#ffffff" stroke-opacity="0.07" stroke-dasharray="2 2" shape-rendering="crispEdges"/>
<text transform="translate(1039.6666666666667,262.8) rotate(-90)" font-size="10.5" fill="#f2f2f2" textLength="21.8" lengthAdjust="spacingAndGlyphs">13:50</text>
<text transform="translate(1081.3333333333333,262.8) rotate(-90)" font-size="10.5" fill="#f2f2f2" textLength="21.8" lengthAdjust="spacingAndGlyphs">13:55</text>
<text transform="translate(1122.4,265.5) rotate(-90)" font-size="10.6" fill="#e45959" textLength="25.6" lengthAdjust="spacingAndGlyphs">14:00</text>
<text transform="translate(1164.6666666666667,262.8) rotate(-90)" font-size="10.5" fill="#f2f2f2" textLength="21.8" lengthAdjust="spacingAndGlyphs">14:05</text>
<text transform="translate(1206.3333333333333,262.8) rotate(-90)" font-size="10.5" fill="#f2f2f2" textLength="21.8" lengthAdjust="spacingAndGlyphs">14:10</text>
<text transform="translate(1248.0,262.8) rotate(-90)" font-size="10.5" fill="#f2f2f2" textLength="21.8" lengthAdjust="spacingAndGlyphs">14:15</text>
<text transform="translate(1289.6666666666667,262.8) rotate(-90)" font-size="10.5" fill="#f2f2f2" textLength="21.8" lengthAdjust="spacingAndGlyphs">14:20</text>
<text transform="translate(1331.3333333333333,262.8) rotate(-90)" font-size="10.5" fill="#f2f2f2" textLength="21.8" lengthAdjust="spacingAndGlyphs">14:25</text>
<text transform="translate(1373.0,262.8) rotate(-90)" font-size="10.5" fill="#f2f2f2" textLength="21.8" lengthAdjust="spacingAndGlyphs">14:30</text>
<text transform="translate(1414.6666666666667,262.8) rotate(-90)" font-size="10.5" fill="#f2f2f2" textLength="21.8" lengthAdjust="spacingAndGlyphs">14:35</text>
<text transform="translate(1456.3333333333333,262.8) rotate(-90)" font-size="10.5" fill="#f2f2f2" textLength="21.8" lengthAdjust="spacingAndGlyphs">14:40</text>
<text transform="translate(1022.7,298.8) rotate(-90)" font-size="10.6" fill="#e45959" textLength="59" lengthAdjust="spacingAndGlyphs">03-26 13:48</text>
<text transform="translate(1522.7,298.8) rotate(-90)" font-size="10.6" fill="#e45959" textLength="59" lengthAdjust="spacingAndGlyphs">03-26 14:48</text>
<path transform="translate(1199.80,315.5) scale(1.020)" d="M2 0.5H8V4H2Z M2 2.2H8 M0 4.8H10 M1.6 4.8V9.4 M4.2 4.8V10 M1.6 6.4H4.2 M1.6 8H4.2 M0 9.6L4.2 8.8 M5.4 5.8H9L5.6 10 M6.2 6.8L10 10" fill="none" stroke="#f2f2f2" stroke-width="0.980"/>
<path transform="translate(1211.40,315.5) scale(1.020)" d="M2.5 0V1 M0.5 1.6H4.5 M1.3 2.3L1.8 3.6 M3.7 2.3L3.2 3.6 M0 4.2H5 M0.4 6.2H4.6 M2.5 4.2V10 M2.5 7L0.3 9.4 M2.5 7.2L4.5 8.8 M9.6 0.4L6.2 1.6V7.6L5.2 10 M6.2 4.6H10 M8.6 4.6V10" fill="none" stroke="#f2f2f2" stroke-width="0.980"/>
<path transform="translate(1275.60,315.5) scale(1.020)" d="M2 0.5H8V4H2Z M2 2.2H8 M0 4.8H10 M1.6 4.8V9.4 M4.2 4.8V10 M1.6 6.4H4.2 M1.6 8H4.2 M0 9.6L4.2 8.8 M5.4 5.8H9L5.6 10 M6.2 6.8L10 10" fill="none" stroke="#f2f2f2" stroke-width="0.980"/>
<path transform="translate(1287.20,315.5) scale(1.020)" d="M6 0.2V9.6L4.6 9.1 M3.2 3.4L1.3 8.6 M8.2 3.4L10.2 8.4" fill="none" stroke="#f2f2f2" stroke-width="0.980"/>
<path transform="translate(1352.50,315.5) scale(1.020)" d="M1.2 1.2H8.8 M2.6 2.8L3.4 4.6 M7.4 2.8L6.6 4.6 M0.3 6H9.7 M5 1.2V10" fill="none" stroke="#f2f2f2" stroke-width="0.980"/>
<path transform="translate(1364.10,315.5) scale(1.020)" d="M0.2 3.6H3.8 M2 1V8 M0 8.8L4 7.4 M6.2 0.3L5.2 3.2 M5.6 2.2H9.4V9.4L8.2 9.6 M6.4 4.2L7.6 5.2 M5.6 8.2L8.4 6.6" fill="none" stroke="#f2f2f2" stroke-width="0.980"/>
<path transform="translate(1428.40,315.5) scale(1.020)" d="M2 0.5H8V4H2Z M2 2.2H8 M0 4.8H10 M1.6 4.8V9.4 M4.2 4.8V10 M1.6 6.4H4.2 M1.6 8H4.2 M0 9.6L4.2 8.8 M5.4 5.8H9L5.6 10 M6.2 6.8L10 10" fill="none" stroke="#f2f2f2" stroke-width="0.980"/>
<path transform="translate(1440.00,315.5) scale(1.020)" d="M0.4 3.6H9.6 M5 0V4.2Q4.6 7.6 0.4 10 M5.4 4.6L10 10" fill="none" stroke="#f2f2f2" stroke-width="0.980"/>
<rect x="944" y="329.0" width="11" height="11" fill="#009900"/>
<rect x="944.5" y="329.5" width="10" height="10" fill="none" stroke="#000" stroke-opacity="0.55"/>
<text x="959.80" y="338.5" font-size="12" fill="#f2f2f2" textLength="154.87" lengthAdjust="spacingAndGlyphs">Hit ratio - TABLE/PROCEDURE</text>
<text x="1133.5" y="338.5" font-size="12" fill="#f2f2f2">[</text>
<path transform="translate(1137.30,329.5) scale(1.020)" d="M1.2 1.2H8.8 M2.6 2.8L3.4 4.6 M7.4 2.8L6.6 4.6 M0.3 6H9.7 M5 1.2V10" fill="none" stroke="#f2f2f2" stroke-width="0.980"/>
<path transform="translate(1148.90,329.5) scale(1.020)" d="M0.2 3.6H3.8 M2 1V8 M0 8.8L4 7.4 M6.2 0.3L5.2 3.2 M5.6 2.2H9.4V9.4L8.2 9.6 M6.4 4.2L7.6 5.2 M5.6 8.2L8.4 6.6" fill="none" stroke="#f2f2f2" stroke-width="0.980"/>
<text x="1160.7" y="338.5" font-size="12" fill="#f2f2f2">]</text>
<text x="1182.65" y="338.5" font-size="12" fill="#f2f2f2" textLength="57.88" lengthAdjust="spacingAndGlyphs">97.6602 %</text>
<text x="1259.55" y="338.5" font-size="12" fill="#f2f2f2" textLength="57.88" lengthAdjust="spacingAndGlyphs">97.6579 %</text>
<text x="1335.35" y="338.5" font-size="12" fill="#f2f2f2" textLength="57.88" lengthAdjust="spacingAndGlyphs">97.6586 %</text>
<text x="1411.65" y="338.5" font-size="12" fill="#f2f2f2" textLength="57.88" lengthAdjust="spacingAndGlyphs">97.6602 %</text>
<rect x="944" y="343.0" width="11" height="11" fill="#e6e62e"/>
<rect x="944.5" y="343.5" width="10" height="10" fill="none" stroke="#000" stroke-opacity="0.55"/>
<text x="959.73" y="352.5" font-size="12" fill="#f2f2f2" textLength="84.42" lengthAdjust="spacingAndGlyphs">Hit ratio - BODY</text>
<text x="1133.5" y="352.5" font-size="12" fill="#f2f2f2">[</text>
<path transform="translate(1137.30,343.5) scale(1.020)" d="M1.2 1.2H8.8 M2.6 2.8L3.4 4.6 M7.4 2.8L6.6 4.6 M0.3 6H9.7 M5 1.2V10" fill="none" stroke="#f2f2f2" stroke-width="0.980"/>
<path transform="translate(1148.90,343.5) scale(1.020)" d="M0.2 3.6H3.8 M2 1V8 M0 8.8L4 7.4 M6.2 0.3L5.2 3.2 M5.6 2.2H9.4V9.4L8.2 9.6 M6.4 4.2L7.6 5.2 M5.6 8.2L8.4 6.6" fill="none" stroke="#f2f2f2" stroke-width="0.980"/>
<text x="1160.7" y="352.5" font-size="12" fill="#f2f2f2">]</text>
<text x="1182.75" y="352.5" font-size="12" fill="#f2f2f2" textLength="57.78" lengthAdjust="spacingAndGlyphs">86.6013 %</text>
<text x="1259.65" y="352.5" font-size="12" fill="#f2f2f2" textLength="57.78" lengthAdjust="spacingAndGlyphs">81.6964 %</text>
<text x="1335.45" y="352.5" font-size="12" fill="#f2f2f2" textLength="57.78" lengthAdjust="spacingAndGlyphs">84.4718 %</text>
<text x="1411.75" y="352.5" font-size="12" fill="#f2f2f2" textLength="57.78" lengthAdjust="spacingAndGlyphs">86.6013 %</text>
<rect x="944" y="357.0" width="11" height="11" fill="#ee88ee"/>
<rect x="944.5" y="357.5" width="10" height="10" fill="none" stroke="#000" stroke-opacity="0.55"/>
<text x="959.77" y="366.5" font-size="12" fill="#f2f2f2" textLength="102.45" lengthAdjust="spacingAndGlyphs">Hit ratio - SQLAREA</text>
<text x="1133.5" y="366.5" font-size="12" fill="#f2f2f2">[</text>
<path transform="translate(1137.30,357.5) scale(1.020)" d="M1.2 1.2H8.8 M2.6 2.8L3.4 4.6 M7.4 2.8L6.6 4.6 M0.3 6H9.7 M5 1.2V10" fill="none" stroke="#f2f2f2" stroke-width="0.980"/>
<path transform="translate(1148.90,357.5) scale(1.020)" d="M0.2 3.6H3.8 M2 1V8 M0 8.8L4 7.4 M6.2 0.3L5.2 3.2 M5.6 2.2H9.4V9.4L8.2 9.6 M6.4 4.2L7.6 5.2 M5.6 8.2L8.4 6.6" fill="none" stroke="#f2f2f2" stroke-width="0.980"/>
<text x="1160.7" y="366.5" font-size="12" fill="#f2f2f2">]</text>
<text x="1182.89" y="366.5" font-size="12" fill="#f2f2f2" textLength="57.64" lengthAdjust="spacingAndGlyphs">53.9998 %</text>
<text x="1259.69" y="366.5" font-size="12" fill="#f2f2f2" textLength="57.74" lengthAdjust="spacingAndGlyphs">49.3715 %</text>
<text x="1335.59" y="366.5" font-size="12" fill="#f2f2f2" textLength="57.64" lengthAdjust="spacingAndGlyphs">51.9114 %</text>
<text x="1411.89" y="366.5" font-size="12" fill="#f2f2f2" textLength="57.64" lengthAdjust="spacingAndGlyphs">53.9998 %</text>
<rect x="944" y="371.0" width="11" height="11" fill="#0000cc"/>
<rect x="944.5" y="371.5" width="10" height="10" fill="none" stroke="#000" stroke-opacity="0.55"/>
<text x="959.78" y="380.5" font-size="12" fill="#f2f2f2" textLength="99.94" lengthAdjust="spacingAndGlyphs">Hit ratio - TRIGGER</text>
<text x="1133.5" y="380.5" font-size="12" fill="#f2f2f2">[</text>
<path transform="translate(1137.30,371.5) scale(1.020)" d="M1.2 1.2H8.8 M2.6 2.8L3.4 4.6 M7.4 2.8L6.6 4.6 M0.3 6H9.7 M5 1.2V10" fill="none" stroke="#f2f2f2" stroke-width="0.980"/>
<path transform="translate(1148.90,371.5) scale(1.020)" d="M0.2 3.6H3.8 M2 1V8 M0 8.8L4 7.4 M6.2 0.3L5.2 3.2 M5.6 2.2H9.4V9.4L8.2 9.6 M6.4 4.2L7.6 5.2 M5.6 8.2L8.4 6.6" fill="none" stroke="#f2f2f2" stroke-width="0.980"/>
<text x="1160.7" y="380.5" font-size="12" fill="#f2f2f2">]</text>
<text x="1220.81" y="380.5" font-size="12" fill="#f2f2f2" textLength="19.70" lengthAdjust="spacingAndGlyphs">0 %</text>
<text x="1297.71" y="380.5" font-size="12" fill="#f2f2f2" textLength="19.70" lengthAdjust="spacingAndGlyphs">0 %</text>
<text x="1373.51" y="380.5" font-size="12" fill="#f2f2f2" textLength="19.70" lengthAdjust="spacingAndGlyphs">0 %</text>
<text x="1449.81" y="380.5" font-size="12" fill="#f2f2f2" textLength="19.70" lengthAdjust="spacingAndGlyphs">0 %</text>
<text x="1180.97" y="458" font-size="14.5" fill="#f2f2f2" textLength="123.06" lengthAdjust="spacingAndGlyphs">c119: Pin Hit Ratio</text>
<line x1="1019.5" y1="465" x2="1019.5" y2="575" stroke="#5e5e5e" shape-rendering="crispEdges"/>
<polygon points="1019.5,460.2 1016,466 1023,466" fill="#707070"/>
<polygon points="1019.5,461.8 1017.4,465.4 1021.6,465.4" fill="#f4f4f4"/>
<line x1="1016" y1="571.5" x2="1524" y2="571.5" stroke="#5e5e5e" shape-rendering="crispEdges"/>
<polygon points="1530,571.5 1524.3,568 1524.3,575" fill="#707070"/>
<polygon points="1528.8,571.5 1525,569.4 1525,573.6" fill="#f4f4f4"/>
<line x1="1020" y1="470.5" x2="1520" y2="470.5" stroke="#ffffff" stroke-opacity="0.16" stroke-dasharray="2 2" shape-rendering="crispEdges"/>
<line x1="1020" y1="520.5" x2="1520" y2="520.5" stroke="#ffffff" stroke-opacity="0.16" stroke-dasharray="2 2" shape-rendering="crispEdges"/>
<line x1="1035.5" y1="470" x2="1035.5" y2="571" stroke="#ffffff" stroke-opacity="0.16" stroke-dasharray="2 2" shape-rendering="crispEdges"/>
<line x1="1077.5" y1="470" x2="1077.5" y2="571" stroke="#ffffff" stroke-opacity="0.16" stroke-dasharray="2 2" shape-rendering="crispEdges"/>
<line x1="1119.5" y1="470" x2="1119.5" y2="571" stroke="#ffffff" stroke-opacity="0.16" stroke-dasharray="2 2" shape-rendering="crispEdges"/>
<line x1="1160.5" y1="470" x2="1160.5" y2="571" stroke="#ffffff" stroke-opacity="0.16" stroke-dasharray="2 2" shape-rendering="crispEdges"/>
<line x1="1202.5" y1="470" x2="1202.5" y2="571" stroke="#ffffff" stroke-opacity="0.16" stroke-dasharray="2 2" shape-rendering="crispEdges"/>
<line x1="1244.5" y1="470" x2="1244.5" y2="571" stroke="#ffffff" stroke-opacity="0.16" stroke-dasharray="2 2" shape-rendering="crispEdges"/>
<line x1="1285.5" y1="470" x2="1285.5" y2="571" stroke="#ffffff" stroke-opacity="0.16" stroke-dasharray="2 2" shape-rendering="crispEdges"/>
<line x1="1327.5" y1="470" x2="1327.5" y2="571" stroke="#ffffff" stroke-opacity="0.16" stroke-dasharray="2 2" shape-rendering="crispEdges"/>
<line x1="1369.5" y1="470" x2="1369.5" y2="571" stroke="#ffffff" stroke-opacity="0.16" stroke-dasharray="2 2" shape-rendering="crispEdges"/>
<line x1="1410.5" y1="470" x2="1410.5" y2="571" stroke="#ffffff" stroke-opacity="0.16" stroke-dasharray="2 2" shape-rendering="crispEdges"/>
<line x1="1452.5" y1="470" x2="1452.5" y2="571" stroke="#ffffff" stroke-opacity="0.16" stroke-dasharray="2 2" shape-rendering="crispEdges"/>
<line x1="1519.5" y1="470" x2="1519.5" y2="571" stroke="#ffffff" stroke-opacity="0.16" stroke-dasharray="2 2" shape-rendering="crispEdges"/>
<polyline points="1019.0,470.5 1518.0,470.5" fill="none" stroke="#78f000" stroke-width="1.2" stroke-linejoin="round" shape-rendering="crispEdges"/>
<text x="982.23" y="474.3" font-size="10.9" fill="#f2f2f2" textLength="28.73" lengthAdjust="spacingAndGlyphs">100 %</text>
<text x="985.96" y="524.3" font-size="10.9" fill="#f2f2f2" textLength="25.03" lengthAdjust="spacingAndGlyphs">50 %</text>
<text x="992.17" y="574.3" font-size="10.9" fill="#f2f2f2" textLength="18.82" lengthAdjust="spacingAndGlyphs">0 %</text>
<line x1="1020" y1="470.5" x2="1520" y2="470.5" stroke="#ffffff" stroke-opacity="0.07" stroke-dasharray="2 2" shape-rendering="crispEdges"/>
<line x1="1020" y1="520.5" x2="1520" y2="520.5" stroke="#ffffff" stroke-opacity="0.07" stroke-dasharray="2 2" shape-rendering="crispEdges"/>
<line x1="1035.5" y1="470" x2="1035.5" y2="571" stroke="#ffffff" stroke-opacity="0.07" stroke-dasharray="2 2" shape-rendering="crispEdges"/>
<line x1="1077.5" y1="470" x2="1077.5" y2="571" stroke="#ffffff" stroke-opacity="0.07" stroke-dasharray="2 2" shape-rendering="crispEdges"/>
<line x1="1119.5" y1="470" x2="1119.5" y2="571" stroke="#ffffff" stroke-opacity="0.07" stroke-dasharray="2 2" shape-rendering="crispEdges"/>
<line x1="1160.5" y1="470" x2="1160.5" y2="571" stroke="#ffffff" stroke-opacity="0.07" stroke-dasharray="2 2" shape-rendering="crispEdges"/>
<line x1="1202.5" y1="470" x2="1202.5" y2="571" stroke="#ffffff" stroke-opacity="0.07" stroke-dasharray="2 2" shape-rendering="crispEdges"/>
<line x1="1244.5" y1="470" x2="1244.5" y2="571" stroke="#ffffff" stroke-opacity="0.07" stroke-dasharray="2 2" shape-rendering="crispEdges"/>
<line x1="1285.5" y1="470" x2="1285.5" y2="571" stroke="#ffffff" stroke-opacity="0.07" stroke-dasharray="2 2" shape-rendering="crispEdges"/>
<line x1="1327.5" y1="470" x2="1327.5" y2="571" stroke="#ffffff" stroke-opacity="0.07" stroke-dasharray="2 2" shape-rendering="crispEdges"/>
<line x1="1369.5" y1="470" x2="1369.5" y2="571" stroke="#ffffff" stroke-opacity="0.07" stroke-dasharray="2 2" shape-rendering="crispEdges"/>
<line x1="1410.5" y1="470" x2="1410.5" y2="571" stroke="#ffffff" stroke-opacity="0.07" stroke-dasharray="2 2" shape-rendering="crispEdges"/>
<line x1="1452.5" y1="470" x2="1452.5" y2="571" stroke="#ffffff" stroke-opacity="0.07" stroke-dasharray="2 2" shape-rendering="crispEdges"/>
<line x1="1519.5" y1="470" x2="1519.5" y2="571" stroke="#ffffff" stroke-opacity="0.07" stroke-dasharray="2 2" shape-rendering="crispEdges"/>
<text transform="translate(1039.6666666666667,597.8) rotate(-90)" font-size="10.5" fill="#f2f2f2" textLength="21.8" lengthAdjust="spacingAndGlyphs">13:50</text>
<text transform="translate(1081.3333333333333,597.8) rotate(-90)" font-size="10.5" fill="#f2f2f2" textLength="21.8" lengthAdjust="spacingAndGlyphs">13:55</text>
<text transform="translate(1122.4,600.5) rotate(-90)" font-size="10.6" fill="#e45959" textLength="25.6" lengthAdjust="spacingAndGlyphs">14:00</text>
<text transform="translate(1164.6666666666667,597.8) rotate(-90)" font-size="10.5" fill="#f2f2f2" textLength="21.8" lengthAdjust="spacingAndGlyphs">14:05</text>
<text transform="translate(1206.3333333333333,597.8) rotate(-90)" font-size="10.5" fill="#f2f2f2" textLength="21.8" lengthAdjust="spacingAndGlyphs">14:10</text>
<text transform="translate(1248.0,597.8) rotate(-90)" font-size="10.5" fill="#f2f2f2" textLength="21.8" lengthAdjust="spacingAndGlyphs">14:15</text>
<text transform="translate(1289.6666666666667,597.8) rotate(-90)" font-size="10.5" fill="#f2f2f2" textLength="21.8" lengthAdjust="spacingAndGlyphs">14:20</text>
<text transform="translate(1331.3333333333333,597.8) rotate(-90)" font-size="10.5" fill="#f2f2f2" textLength="21.8" lengthAdjust="spacingAndGlyphs">14:25</text>
<text transform="translate(1373.0,597.8) rotate(-90)" font-size="10.5" fill="#f2f2f2" textLength="21.8" lengthAdjust="spacingAndGlyphs">14:30</text>
<text transform="translate(1414.6666666666667,597.8) rotate(-90)" font-size="10.5" fill="#f2f2f2" textLength="21.8" lengthAdjust="spacingAndGlyphs">14:35</text>
<text transform="translate(1456.3333333333333,597.8) rotate(-90)" font-size="10.5" fill="#f2f2f2" textLength="21.8" lengthAdjust="spacingAndGlyphs">14:40</text>
<text transform="translate(1022.7,633.8) rotate(-90)" font-size="10.6" fill="#e45959" textLength="59" lengthAdjust="spacingAndGlyphs">03-26 13:48</text>
<text transform="translate(1522.7,633.8) rotate(-90)" font-size="10.6" fill="#e45959" textLength="59" lengthAdjust="spacingAndGlyphs">03-26 14:48</text>
<path transform="translate(1218.80,650.5) scale(1.020)" d="M2 0.5H8V4H2Z M2 2.2H8 M0 4.8H10 M1.6 4.8V9.4 M4.2 4.8V10 M1.6 6.4H4.2 M1.6 8H4.2 M0 9.6L4.2 8.8 M5.4 5.8H9L5.6 10 M6.2 6.8L10 10" fill="none" stroke="#f2f2f2" stroke-width="0.980"/>
<path transform="translate(1230.40,650.5) scale(1.020)" d="M2.5 0V1 M0.5 1.6H4.5 M1.3 2.3L1.8 3.6 M3.7 2.3L3.2 3.6 M0 4.2H5 M0.4 6.2H4.6 M2.5 4.2V10 M2.5 7L0.3 9.4 M2.5 7.2L4.5 8.8 M9.6 0.4L6.2 1.6V7.6L5.2 10 M6.2 4.6H10 M8.6 4.6V10" fill="none" stroke="#f2f2f2" stroke-width="0.980"/>
<path transform="translate(1294.70,650.5) scale(1.020)" d="M2 0.5H8V4H2Z M2 2.2H8 M0 4.8H10 M1.6 4.8V9.4 M4.2 4.8V10 M1.6 6.4H4.2 M1.6 8H4.2 M0 9.6L4.2 8.8 M5.4 5.8H9L5.6 10 M6.2 6.8L10 10" fill="none" stroke="#f2f2f2" stroke-width="0.980"/>
<path transform="translate(1306.30,650.5) scale(1.020)" d="M6 0.2V9.6L4.6 9.1 M3.2 3.4L1.3 8.6 M8.2 3.4L10.2 8.4" fill="none" stroke="#f2f2f2" stroke-width="0.980"/>
<path transform="translate(1370.60,650.5) scale(1.020)" d="M1.2 1.2H8.8 M2.6 2.8L3.4 4.6 M7.4 2.8L6.6 4.6 M0.3 6H9.7 M5 1.2V10" fill="none" stroke="#f2f2f2" stroke-width="0.980"/>
<path transform="translate(1382.20,650.5) scale(1.020)" d="M0.2 3.6H3.8 M2 1V8 M0 8.8L4 7.4 M6.2 0.3L5.2 3.2 M5.6 2.2H9.4V9.4L8.2 9.6 M6.4 4.2L7.6 5.2 M5.6 8.2L8.4 6.6" fill="none" stroke="#f2f2f2" stroke-width="0.980"/>
<path transform="translate(1447.40,650.5) scale(1.020)" d="M2 0.5H8V4H2Z M2 2.2H8 M0 4.8H10 M1.6 4.8V9.4 M4.2 4.8V10 M1.6 6.4H4.2 M1.6 8H4.2 M0 9.6L4.2 8.8 M5.4 5.8H9L5.6 10 M6.2 6.8L10 10" fill="none" stroke="#f2f2f2" stroke-width="0.980"/>
<path transform="translate(1459.00,650.5) scale(1.020)" d="M0.4 3.6H9.6 M5 0V4.2Q4.6 7.6 0.4 10 M5.4 4.6L10 10" fill="none" stroke="#f2f2f2" stroke-width="0.980"/>
<rect x="944" y="664.0" width="11" height="11" fill="#000099"/>
<rect x="944.5" y="664.5" width="10" height="10" fill="none" stroke="#000" stroke-opacity="0.55"/>
<text x="959.80" y="673.5" font-size="12" fill="#f2f2f2" textLength="173.88" lengthAdjust="spacingAndGlyphs">Pin hit ratio - TABLE-PROCEDURE</text>
<text x="1152.8" y="673.5" font-size="12" fill="#f2f2f2">[</text>
<path transform="translate(1156.60,664.5) scale(1.020)" d="M1.2 1.2H8.8 M2.6 2.8L3.4 4.6 M7.4 2.8L6.6 4.6 M0.3 6H9.7 M5 1.2V10" fill="none" stroke="#f2f2f2" stroke-width="0.980"/>
<path transform="translate(1168.20,664.5) scale(1.020)" d="M0.2 3.6H3.8 M2 1V8 M0 8.8L4 7.4 M6.2 0.3L5.2 3.2 M5.6 2.2H9.4V9.4L8.2 9.6 M6.4 4.2L7.6 5.2 M5.6 8.2L8.4 6.6" fill="none" stroke="#f2f2f2" stroke-width="0.980"/>
<text x="1180.0" y="673.5" font-size="12" fill="#f2f2f2">]</text>
<text x="1201.75" y="673.5" font-size="12" fill="#f2f2f2" textLength="57.88" lengthAdjust="spacingAndGlyphs">99.8978 %</text>
<text x="1277.55" y="673.5" font-size="12" fill="#f2f2f2" textLength="57.88" lengthAdjust="spacingAndGlyphs">99.8973 %</text>
<text x="1353.45" y="673.5" font-size="12" fill="#f2f2f2" textLength="57.88" lengthAdjust="spacingAndGlyphs">99.8976 %</text>
<text x="1429.75" y="673.5" font-size="12" fill="#f2f2f2" textLength="57.88" lengthAdjust="spacingAndGlyphs">99.8978 %</text>
<rect x="944" y="678.0" width="11" height="11" fill="#999900"/>
<rect x="944.5" y="678.5" width="10" height="10" fill="none" stroke="#000" stroke-opacity="0.55"/>
<text x="959.73" y="687.5" font-size="12" fill="#f2f2f2" textLength="103.43" lengthAdjust="spacingAndGlyphs">Pin hit ratio - BODY</text>
<text x="1152.8" y="687.5" font-size="12" fill="#f2f2f2">[</text>
<path transform="translate(1156.60,678.5) scale(1.020)" d="M1.2 1.2H8.8 M2.6 2.8L3.4 4.6 M7.4 2.8L6.6 4.6 M0.3 6H9.7 M5 1.2V10" fill="none" stroke="#f2f2f2" stroke-width="0.980"/>
<path transform="translate(1168.20,678.5) scale(1.020)" d="M0.2 3.6H3.8 M2 1V8 M0 8.8L4 7.4 M6.2 0.3L5.2 3.2 M5.6 2.2H9.4V9.4L8.2 9.6 M6.4 4.2L7.6 5.2 M5.6 8.2L8.4 6.6" fill="none" stroke="#f2f2f2" stroke-width="0.980"/>
<text x="1180.0" y="687.5" font-size="12" fill="#f2f2f2">]</text>
<text x="1225.92" y="687.5" font-size="12" fill="#f2f2f2" textLength="33.71" lengthAdjust="spacingAndGlyphs">100 %</text>
<text x="1301.72" y="687.5" font-size="12" fill="#f2f2f2" textLength="33.71" lengthAdjust="spacingAndGlyphs">100 %</text>
<text x="1377.62" y="687.5" font-size="12" fill="#f2f2f2" textLength="33.71" lengthAdjust="spacingAndGlyphs">100 %</text>
<text x="1453.92" y="687.5" font-size="12" fill="#f2f2f2" textLength="33.71" lengthAdjust="spacingAndGlyphs">100 %</text>
<rect x="944" y="692.0" width="11" height="11" fill="#990099"/>
<rect x="944.5" y="692.5" width="10" height="10" fill="none" stroke="#000" stroke-opacity="0.55"/>
<text x="959.76" y="701.5" font-size="12" fill="#f2f2f2" textLength="121.36" lengthAdjust="spacingAndGlyphs">Pin hit ratio - SQLAREA</text>
<text x="1152.8" y="701.5" font-size="12" fill="#f2f2f2">[</text>
<path transform="translate(1156.60,692.5) scale(1.020)" d="M1.2 1.2H8.8 M2.6 2.8L3.4 4.6 M7.4 2.8L6.6 4.6 M0.3 6H9.7 M5 1.2V10" fill="none" stroke="#f2f2f2" stroke-width="0.980"/>
<path transform="translate(1168.20,692.5) scale(1.020)" d="M0.2 3.6H3.8 M2 1V8 M0 8.8L4 7.4 M6.2 0.3L5.2 3.2 M5.6 2.2H9.4V9.4L8.2 9.6 M6.4 4.2L7.6 5.2 M5.6 8.2L8.4 6.6" fill="none" stroke="#f2f2f2" stroke-width="0.980"/>
<text x="1180.0" y="701.5" font-size="12" fill="#f2f2f2">]</text>
<text x="1201.75" y="701.5" font-size="12" fill="#f2f2f2" textLength="57.88" lengthAdjust="spacingAndGlyphs">99.9201 %</text>
<text x="1284.56" y="701.5" font-size="12" fill="#f2f2f2" textLength="50.87" lengthAdjust="spacingAndGlyphs">99.909 %</text>
<text x="1353.45" y="701.5" font-size="12" fill="#f2f2f2" textLength="57.88" lengthAdjust="spacingAndGlyphs">99.9149 %</text>
<text x="1429.75" y="701.5" font-size="12" fill="#f2f2f2" textLength="57.88" lengthAdjust="spacingAndGlyphs">99.9201 %</text>
<rect x="944" y="706.0" width="11" height="11" fill="#6ee000"/>
<rect x="944.5" y="706.5" width="10" height="10" fill="none" stroke="#000" stroke-opacity="0.55"/>
<text x="959.77" y="715.5" font-size="12" fill="#f2f2f2" textLength="119.06" lengthAdjust="spacingAndGlyphs">Pin hit ratio - TRIGGER</text>
<text x="1152.8" y="715.5" font-size="12" fill="#f2f2f2">[</text>
<path transform="translate(1156.60,706.5) scale(1.020)" d="M1.2 1.2H8.8 M2.6 2.8L3.4 4.6 M7.4 2.8L6.6 4.6 M0.3 6H9.7 M5 1.2V10" fill="none" stroke="#f2f2f2" stroke-width="0.980"/>
<path transform="translate(1168.20,706.5) scale(1.020)" d="M0.2 3.6H3.8 M2 1V8 M0 8.8L4 7.4 M6.2 0.3L5.2 3.2 M5.6 2.2H9.4V9.4L8.2 9.6 M6.4 4.2L7.6 5.2 M5.6 8.2L8.4 6.6" fill="none" stroke="#f2f2f2" stroke-width="0.980"/>
<text x="1180.0" y="715.5" font-size="12" fill="#f2f2f2">]</text>
<text x="1225.92" y="715.5" font-size="12" fill="#f2f2f2" textLength="33.71" lengthAdjust="spacingAndGlyphs">100 %</text>
<text x="1301.72" y="715.5" font-size="12" fill="#f2f2f2" textLength="33.71" lengthAdjust="spacingAndGlyphs">100 %</text>
<text x="1377.62" y="715.5" font-size="12" fill="#f2f2f2" textLength="33.71" lengthAdjust="spacingAndGlyphs">100 %</text>
<text x="1453.92" y="715.5" font-size="12" fill="#f2f2f2" textLength="33.71" lengthAdjust="spacingAndGlyphs">100 %</text>
<text x="1195.10" y="758" font-size="14.5" fill="#f2f2f2" textLength="95.81" lengthAdjust="spacingAndGlyphs">c119: Sessions</text>
<line x1="1019.5" y1="765" x2="1019.5" y2="875" stroke="#5e5e5e" shape-rendering="crispEdges"/>
<polygon points="1019.5,760.2 1016,766 1023,766" fill="#707070"/>
<polygon points="1019.5,761.8 1017.4,765.4 1021.6,765.4" fill="#f4f4f4"/>
<line x1="1016" y1="871.5" x2="1524" y2="871.5" stroke="#5e5e5e" shape-rendering="crispEdges"/>
<polygon points="1530,871.5 1524.3,868 1524.3,875" fill="#707070"/>
<polygon points="1528.8,871.5 1525,869.4 1525,873.6" fill="#f4f4f4"/>
<line x1="1020" y1="770.5" x2="1520" y2="770.5" stroke="#ffffff" stroke-opacity="0.16" stroke-dasharray="2 2" shape-rendering="crispEdges"/>
<line x1="1035.5" y1="770" x2="1035.5" y2="871" stroke="#ffffff" stroke-opacity="0.16" stroke-dasharray="2 2" shape-rendering="crispEdges"/>
<line x1="1077.5" y1="770" x2="1077.5" y2="871" stroke="#ffffff" stroke-opacity="0.16" stroke-dasharray="2 2" shape-rendering="crispEdges"/>
<line x1="1119.5" y1="770" x2="1119.5" y2="871" stroke="#ffffff" stroke-opacity="0.16" stroke-dasharray="2 2" shape-rendering="crispEdges"/>
<line x1="1160.5" y1="770" x2="1160.5" y2="871" stroke="#ffffff" stroke-opacity="0.16" stroke-dasharray="2 2" shape-rendering="crispEdges"/>
<line x1="1202.5" y1="770" x2="1202.5" y2="871" stroke="#ffffff" stroke-opacity="0.16" stroke-dasharray="2 2" shape-rendering="crispEdges"/>
<line x1="1244.5" y1="770" x2="1244.5" y2="871" stroke="#ffffff" stroke-opacity="0.16" stroke-dasharray="2 2" shape-rendering="crispEdges"/>
<line x1="1285.5" y1="770" x2="1285.5" y2="871" stroke="#ffffff" stroke-opacity="0.16" stroke-dasharray="2 2" shape-rendering="crispEdges"/>
<line x1="1327.5" y1="770" x2="1327.5" y2="871" stroke="#ffffff" stroke-opacity="0.16" stroke-dasharray="2 2" shape-rendering="crispEdges"/>
<line x1="1369.5" y1="770" x2="1369.5" y2="871" stroke="#ffffff" stroke-opacity="0.16" stroke-dasharray="2 2" shape-rendering="crispEdges"/>
<line x1="1410.5" y1="770" x2="1410.5" y2="871" stroke="#ffffff" stroke-opacity="0.16" stroke-dasharray="2 2" shape-rendering="crispEdges"/>
<line x1="1452.5" y1="770" x2="1452.5" y2="871" stroke="#ffffff" stroke-opacity="0.16" stroke-dasharray="2 2" shape-rendering="crispEdges"/>
<line x1="1519.5" y1="770" x2="1519.5" y2="871" stroke="#ffffff" stroke-opacity="0.16" stroke-dasharray="2 2" shape-rendering="crispEdges"/>
<polygon points="1019.0,801.0 1518.0,801.0 1518.0,871.0 1019.0,871.0" fill="#e600e6" shape-rendering="crispEdges"/>
<polygon points="1019.0,796.0 1045.7,796.0 1059.7,790.0 1063.7,790.0 1077.7,796.0 1129.0,796.0 1143.0,790.0 1147.0,790.0 1161.0,796.0 1212.4,796.0 1226.4,790.0 1230.4,790.0 1244.4,796.0 1295.7,796.0 1309.7,790.0 1313.7,790.0 1327.7,796.0 1379.0,796.0 1393.0,790.0 1397.0,790.0 1411.0,796.0 1462.3,796.0 1476.3,790.0 1480.3,790.0 1494.3,796.0 1518.0,796.0 1518.0,801.0 1019.0,801.0" fill="#008c08" shape-rendering="crispEdges"/>
<rect x="1019" y="801" width="499" height="1" fill="#ff10ff"/>
<line x1="1019" y1="804" x2="1520" y2="804" stroke="#e8557a" stroke-width="2" stroke-dasharray="5 3" shape-rendering="crispEdges"/>
<line x1="1024" y1="804" x2="1520" y2="804" stroke="#38003a" stroke-width="2" stroke-dasharray="3 5" shape-rendering="crispEdges"/>
<line x1="1019" y1="838" x2="1520" y2="838" stroke="#e8557a" stroke-width="2" stroke-dasharray="5 3" shape-rendering="crispEdges"/>
<line x1="1024" y1="838" x2="1520" y2="838" stroke="#38003a" stroke-width="2" stroke-dasharray="3 5" shape-rendering="crispEdges"/>
<text x="998.29" y="774.3" font-size="10.9" fill="#f2f2f2" textLength="11.93" lengthAdjust="spacingAndGlyphs">30</text>
<text x="998.15" y="807.5999999999999" font-size="10.9" fill="#f2f2f2" textLength="12.07" lengthAdjust="spacingAndGlyphs">20</text>
<text x="1000.00" y="841.0" font-size="10.9" fill="#f2f2f2" textLength="10.15" lengthAdjust="spacingAndGlyphs">10</text>
<text x="1004.18" y="874.3" font-size="10.9" fill="#f2f2f2" textLength="6.05" lengthAdjust="spacingAndGlyphs">0</text>
<line x1="1020" y1="770.5" x2="1520" y2="770.5" stroke="#ffffff" stroke-opacity="0.07" stroke-dasharray="2 2" shape-rendering="crispEdges"/>
<line x1="1035.5" y1="770" x2="1035.5" y2="871" stroke="#ffffff" stroke-opacity="0.07" stroke-dasharray="2 2" shape-rendering="crispEdges"/>
<line x1="1077.5" y1="770" x2="1077.5" y2="871" stroke="#ffffff" stroke-opacity="0.07" stroke-dasharray="2 2" shape-rendering="crispEdges"/>
<line x1="1119.5" y1="770" x2="1119.5" y2="871" stroke="#ffffff" stroke-opacity="0.07" stroke-dasharray="2 2" shape-rendering="crispEdges"/>
<line x1="1160.5" y1="770" x2="1160.5" y2="871" stroke="#ffffff" stroke-opacity="0.07" stroke-dasharray="2 2" shape-rendering="crispEdges"/>
<line x1="1202.5" y1="770" x2="1202.5" y2="871" stroke="#ffffff" stroke-opacity="0.07" stroke-dasharray="2 2" shape-rendering="crispEdges"/>
<line x1="1244.5" y1="770" x2="1244.5" y2="871" stroke="#ffffff" stroke-opacity="0.07" stroke-dasharray="2 2" shape-rendering="crispEdges"/>
<line x1="1285.5" y1="770" x2="1285.5" y2="871" stroke="#ffffff" stroke-opacity="0.07" stroke-dasharray="2 2" shape-rendering="crispEdges"/>
<line x1="1327.5" y1="770" x2="1327.5" y2="871" stroke="#ffffff" stroke-opacity="0.07" stroke-dasharray="2 2" shape-rendering="crispEdges"/>
<line x1="1369.5" y1="770" x2="1369.5" y2="871" stroke="#ffffff" stroke-opacity="0.07" stroke-dasharray="2 2" shape-rendering="crispEdges"/>
<line x1="1410.5" y1="770" x2="1410.5" y2="871" stroke="#ffffff" stroke-opacity="0.07" stroke-dasharray="2 2" shape-rendering="crispEdges"/>
<line x1="1452.5" y1="770" x2="1452.5" y2="871" stroke="#ffffff" stroke-opacity="0.07" stroke-dasharray="2 2" shape-rendering="crispEdges"/>
<line x1="1519.5" y1="770" x2="1519.5" y2="871" stroke="#ffffff" stroke-opacity="0.07" stroke-dasharray="2 2" shape-rendering="crispEdges"/>
<text transform="translate(1039.6666666666667,897.8) rotate(-90)" font-size="10.5" fill="#f2f2f2" textLength="21.8" lengthAdjust="spacingAndGlyphs">13:50</text>
<text transform="translate(1081.3333333333333,897.8) rotate(-90)" font-size="10.5" fill="#f2f2f2" textLength="21.8" lengthAdjust="spacingAndGlyphs">13:55</text>
<text transform="translate(1122.4,900.5) rotate(-90)" font-size="10.6" fill="#e45959" textLength="25.6" lengthAdjust="spacingAndGlyphs">14:00</text>
<text transform="translate(1164.6666666666667,897.8) rotate(-90)" font-size="10.5" fill="#f2f2f2" textLength="21.8" lengthAdjust="spacingAndGlyphs">14:05</text>
<text transform="translate(1206.3333333333333,897.8) rotate(-90)" font-size="10.5" fill="#f2f2f2" textLength="21.8" lengthAdjust="spacingAndGlyphs">14:10</text>
<text transform="translate(1248.0,897.8) rotate(-90)" font-size="10.5" fill="#f2f2f2" textLength="21.8" lengthAdjust="spacingAndGlyphs">14:15</text>
<text transform="translate(1289.6666666666667,897.8) rotate(-90)" font-size="10.5" fill="#f2f2f2" textLength="21.8" lengthAdjust="spacingAndGlyphs">14:20</text>
<text transform="translate(1331.3333333333333,897.8) rotate(-90)" font-size="10.5" fill="#f2f2f2" textLength="21.8" lengthAdjust="spacingAndGlyphs">14:25</text>
<text transform="translate(1373.0,897.8) rotate(-90)" font-size="10.5" fill="#f2f2f2" textLength="21.8" lengthAdjust="spacingAndGlyphs">14:30</text>
<text transform="translate(1414.6666666666667,897.8) rotate(-90)" font-size="10.5" fill="#f2f2f2" textLength="21.8" lengthAdjust="spacingAndGlyphs">14:35</text>
<text transform="translate(1456.3333333333333,897.8) rotate(-90)" font-size="10.5" fill="#f2f2f2" textLength="21.8" lengthAdjust="spacingAndGlyphs">14:40</text>
<text transform="translate(1022.7,933.8) rotate(-90)" font-size="10.6" fill="#e45959" textLength="59" lengthAdjust="spacingAndGlyphs">03-26 13:48</text>
<text transform="translate(1522.7,933.8) rotate(-90)" font-size="10.6" fill="#e45959" textLength="59" lengthAdjust="spacingAndGlyphs">03-26 14:48</text>
<path transform="translate(1119.40,952.7) scale(1.020)" d="M2 0.5H8V4H2Z M2 2.2H8 M0 4.8H10 M1.6 4.8V9.4 M4.2 4.8V10 M1.6 6.4H4.2 M1.6 8H4.2 M0 9.6L4.2 8.8 M5.4 5.8H9L5.6 10 M6.2 6.8L10 10" fill="none" stroke="#f2f2f2" stroke-width="0.980"/>
<path transform="translate(1131.00,952.7) scale(1.020)" d="M2.5 0V1 M0.5 1.6H4.5 M1.3 2.3L1.8 3.6 M3.7 2.3L3.2 3.6 M0 4.2H5 M0.4 6.2H4.6 M2.5 4.2V10 M2.5 7L0.3 9.4 M2.5 7.2L4.5 8.8 M9.6 0.4L6.2 1.6V7.6L5.2 10 M6.2 4.6H10 M8.6 4.6V10" fill="none" stroke="#f2f2f2" stroke-width="0.980"/>
<path transform="translate(1163.60,952.7) scale(1.020)" d="M2 0.5H8V4H2Z M2 2.2H8 M0 4.8H10 M1.6 4.8V9.4 M4.2 4.8V10 M1.6 6.4H4.2 M1.6 8H4.2 M0 9.6L4.2 8.8 M5.4 5.8H9L5.6 10 M6.2 6.8L10 10" fill="none" stroke="#f2f2f2" stroke-width="0.980"/>
<path transform="translate(1175.20,952.7) scale(1.020)" d="M6 0.2V9.6L4.6 9.1 M3.2 3.4L1.3 8.6 M8.2 3.4L10.2 8.4" fill="none" stroke="#f2f2f2" stroke-width="0.980"/>
<path transform="translate(1207.20,952.7) scale(1.020)" d="M1.2 1.2H8.8 M2.6 2.8L3.4 4.6 M7.4 2.8L6.6 4.6 M0.3 6H9.7 M5 1.2V10" fill="none" stroke="#f2f2f2" stroke-width="0.980"/>
<path transform="translate(1218.80,952.7) scale(1.020)" d="M0.2 3.6H3.8 M2 1V8 M0 8.8L4 7.4 M6.2 0.3L5.2 3.2 M5.6 2.2H9.4V9.4L8.2 9.6 M6.4 4.2L7.6 5.2 M5.6 8.2L8.4 6.6" fill="none" stroke="#f2f2f2" stroke-width="0.980"/>
<path transform="translate(1252.00,952.7) scale(1.020)" d="M2 0.5H8V4H2Z M2 2.2H8 M0 4.8H10 M1.6 4.8V9.4 M4.2 4.8V10 M1.6 6.4H4.2 M1.6 8H4.2 M0 9.6L4.2 8.8 M5.4 5.8H9L5.6 10 M6.2 6.8L10 10" fill="none" stroke="#f2f2f2" stroke-width="0.980"/>
<path transform="translate(1263.60,952.7) scale(1.020)" d="M0.4 3.6H9.6 M5 0V4.2Q4.6 7.6 0.4 10 M5.4 4.6L10 10" fill="none" stroke="#f2f2f2" stroke-width="0.980"/>
</svg></div></body></html>
